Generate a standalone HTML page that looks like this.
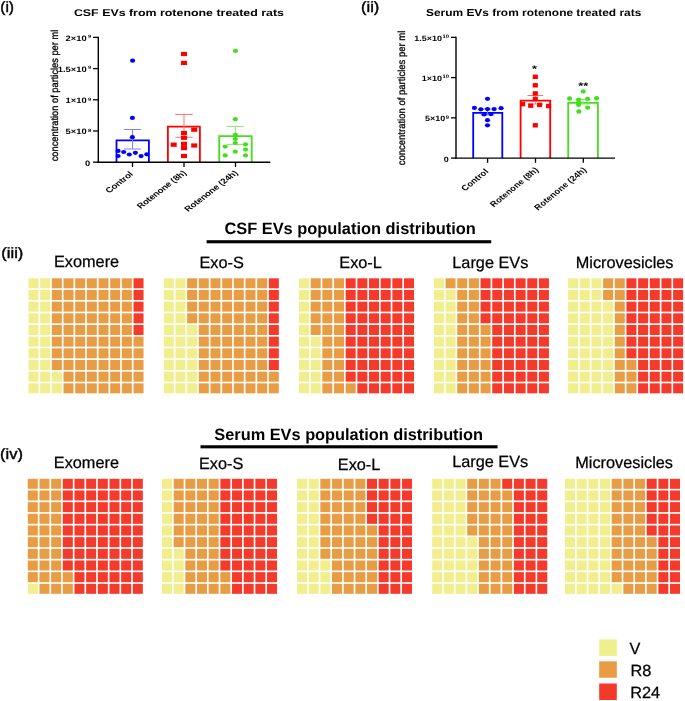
<!DOCTYPE html>
<html><head><meta charset="utf-8"><style>
html,body{margin:0;padding:0;background:#fff;width:685px;height:701px;overflow:hidden}
svg{display:block;will-change:transform}
text{font-family:"Liberation Sans",sans-serif;fill:#000;text-rendering:geometricPrecision}
</style></head><body>
<svg width="685" height="701" viewBox="0 0 685 701">
<rect width="685" height="701" fill="#fff"/>
<rect x="28.50" y="383.33" width="10.0" height="10.0" fill="#F1EE8E"/>
<rect x="28.50" y="371.66" width="10.0" height="10.0" fill="#F1EE8E"/>
<rect x="28.50" y="359.99" width="10.0" height="10.0" fill="#F1EE8E"/>
<rect x="28.50" y="348.32" width="10.0" height="10.0" fill="#F1EE8E"/>
<rect x="28.50" y="336.65" width="10.0" height="10.0" fill="#F1EE8E"/>
<rect x="28.50" y="324.98" width="10.0" height="10.0" fill="#F1EE8E"/>
<rect x="28.50" y="313.31" width="10.0" height="10.0" fill="#F1EE8E"/>
<rect x="28.50" y="301.64" width="10.0" height="10.0" fill="#F1EE8E"/>
<rect x="28.50" y="289.97" width="10.0" height="10.0" fill="#F1EE8E"/>
<rect x="28.50" y="278.30" width="10.0" height="10.0" fill="#F1EE8E"/>
<rect x="40.17" y="383.33" width="10.0" height="10.0" fill="#F1EE8E"/>
<rect x="40.17" y="371.66" width="10.0" height="10.0" fill="#F1EE8E"/>
<rect x="40.17" y="359.99" width="10.0" height="10.0" fill="#F1EE8E"/>
<rect x="40.17" y="348.32" width="10.0" height="10.0" fill="#F1EE8E"/>
<rect x="40.17" y="336.65" width="10.0" height="10.0" fill="#F1EE8E"/>
<rect x="40.17" y="324.98" width="10.0" height="10.0" fill="#F1EE8E"/>
<rect x="40.17" y="313.31" width="10.0" height="10.0" fill="#F1EE8E"/>
<rect x="40.17" y="301.64" width="10.0" height="10.0" fill="#F1EE8E"/>
<rect x="40.17" y="289.97" width="10.0" height="10.0" fill="#F1EE8E"/>
<rect x="40.17" y="278.30" width="10.0" height="10.0" fill="#F1EE8E"/>
<rect x="51.84" y="383.33" width="10.0" height="10.0" fill="#F1EE8E"/>
<rect x="51.84" y="371.66" width="10.0" height="10.0" fill="#F1EE8E"/>
<rect x="51.84" y="359.99" width="10.0" height="10.0" fill="#E89D45"/>
<rect x="51.84" y="348.32" width="10.0" height="10.0" fill="#E89D45"/>
<rect x="51.84" y="336.65" width="10.0" height="10.0" fill="#E89D45"/>
<rect x="51.84" y="324.98" width="10.0" height="10.0" fill="#E89D45"/>
<rect x="51.84" y="313.31" width="10.0" height="10.0" fill="#E89D45"/>
<rect x="51.84" y="301.64" width="10.0" height="10.0" fill="#E89D45"/>
<rect x="51.84" y="289.97" width="10.0" height="10.0" fill="#E89D45"/>
<rect x="51.84" y="278.30" width="10.0" height="10.0" fill="#E89D45"/>
<rect x="63.51" y="383.33" width="10.0" height="10.0" fill="#E89D45"/>
<rect x="63.51" y="371.66" width="10.0" height="10.0" fill="#E89D45"/>
<rect x="63.51" y="359.99" width="10.0" height="10.0" fill="#E89D45"/>
<rect x="63.51" y="348.32" width="10.0" height="10.0" fill="#E89D45"/>
<rect x="63.51" y="336.65" width="10.0" height="10.0" fill="#E89D45"/>
<rect x="63.51" y="324.98" width="10.0" height="10.0" fill="#E89D45"/>
<rect x="63.51" y="313.31" width="10.0" height="10.0" fill="#E89D45"/>
<rect x="63.51" y="301.64" width="10.0" height="10.0" fill="#E89D45"/>
<rect x="63.51" y="289.97" width="10.0" height="10.0" fill="#E89D45"/>
<rect x="63.51" y="278.30" width="10.0" height="10.0" fill="#E89D45"/>
<rect x="75.18" y="383.33" width="10.0" height="10.0" fill="#E89D45"/>
<rect x="75.18" y="371.66" width="10.0" height="10.0" fill="#E89D45"/>
<rect x="75.18" y="359.99" width="10.0" height="10.0" fill="#E89D45"/>
<rect x="75.18" y="348.32" width="10.0" height="10.0" fill="#E89D45"/>
<rect x="75.18" y="336.65" width="10.0" height="10.0" fill="#E89D45"/>
<rect x="75.18" y="324.98" width="10.0" height="10.0" fill="#E89D45"/>
<rect x="75.18" y="313.31" width="10.0" height="10.0" fill="#E89D45"/>
<rect x="75.18" y="301.64" width="10.0" height="10.0" fill="#E89D45"/>
<rect x="75.18" y="289.97" width="10.0" height="10.0" fill="#E89D45"/>
<rect x="75.18" y="278.30" width="10.0" height="10.0" fill="#E89D45"/>
<rect x="86.85" y="383.33" width="10.0" height="10.0" fill="#E89D45"/>
<rect x="86.85" y="371.66" width="10.0" height="10.0" fill="#E89D45"/>
<rect x="86.85" y="359.99" width="10.0" height="10.0" fill="#E89D45"/>
<rect x="86.85" y="348.32" width="10.0" height="10.0" fill="#E89D45"/>
<rect x="86.85" y="336.65" width="10.0" height="10.0" fill="#E89D45"/>
<rect x="86.85" y="324.98" width="10.0" height="10.0" fill="#E89D45"/>
<rect x="86.85" y="313.31" width="10.0" height="10.0" fill="#E89D45"/>
<rect x="86.85" y="301.64" width="10.0" height="10.0" fill="#E89D45"/>
<rect x="86.85" y="289.97" width="10.0" height="10.0" fill="#E89D45"/>
<rect x="86.85" y="278.30" width="10.0" height="10.0" fill="#E89D45"/>
<rect x="98.52" y="383.33" width="10.0" height="10.0" fill="#E89D45"/>
<rect x="98.52" y="371.66" width="10.0" height="10.0" fill="#E89D45"/>
<rect x="98.52" y="359.99" width="10.0" height="10.0" fill="#E89D45"/>
<rect x="98.52" y="348.32" width="10.0" height="10.0" fill="#E89D45"/>
<rect x="98.52" y="336.65" width="10.0" height="10.0" fill="#E89D45"/>
<rect x="98.52" y="324.98" width="10.0" height="10.0" fill="#E89D45"/>
<rect x="98.52" y="313.31" width="10.0" height="10.0" fill="#E89D45"/>
<rect x="98.52" y="301.64" width="10.0" height="10.0" fill="#E89D45"/>
<rect x="98.52" y="289.97" width="10.0" height="10.0" fill="#E89D45"/>
<rect x="98.52" y="278.30" width="10.0" height="10.0" fill="#E89D45"/>
<rect x="110.19" y="383.33" width="10.0" height="10.0" fill="#E89D45"/>
<rect x="110.19" y="371.66" width="10.0" height="10.0" fill="#E89D45"/>
<rect x="110.19" y="359.99" width="10.0" height="10.0" fill="#E89D45"/>
<rect x="110.19" y="348.32" width="10.0" height="10.0" fill="#E89D45"/>
<rect x="110.19" y="336.65" width="10.0" height="10.0" fill="#E89D45"/>
<rect x="110.19" y="324.98" width="10.0" height="10.0" fill="#E89D45"/>
<rect x="110.19" y="313.31" width="10.0" height="10.0" fill="#E89D45"/>
<rect x="110.19" y="301.64" width="10.0" height="10.0" fill="#E89D45"/>
<rect x="110.19" y="289.97" width="10.0" height="10.0" fill="#E89D45"/>
<rect x="110.19" y="278.30" width="10.0" height="10.0" fill="#E89D45"/>
<rect x="121.86" y="383.33" width="10.0" height="10.0" fill="#E89D45"/>
<rect x="121.86" y="371.66" width="10.0" height="10.0" fill="#E89D45"/>
<rect x="121.86" y="359.99" width="10.0" height="10.0" fill="#E89D45"/>
<rect x="121.86" y="348.32" width="10.0" height="10.0" fill="#E89D45"/>
<rect x="121.86" y="336.65" width="10.0" height="10.0" fill="#E89D45"/>
<rect x="121.86" y="324.98" width="10.0" height="10.0" fill="#E89D45"/>
<rect x="121.86" y="313.31" width="10.0" height="10.0" fill="#E89D45"/>
<rect x="121.86" y="301.64" width="10.0" height="10.0" fill="#E89D45"/>
<rect x="121.86" y="289.97" width="10.0" height="10.0" fill="#E89D45"/>
<rect x="121.86" y="278.30" width="10.0" height="10.0" fill="#E89D45"/>
<rect x="133.53" y="383.33" width="10.0" height="10.0" fill="#E89D45"/>
<rect x="133.53" y="371.66" width="10.0" height="10.0" fill="#E89D45"/>
<rect x="133.53" y="359.99" width="10.0" height="10.0" fill="#E89D45"/>
<rect x="133.53" y="348.32" width="10.0" height="10.0" fill="#E89D45"/>
<rect x="133.53" y="336.65" width="10.0" height="10.0" fill="#E89D45"/>
<rect x="133.53" y="324.98" width="10.0" height="10.0" fill="#F5392A"/>
<rect x="133.53" y="313.31" width="10.0" height="10.0" fill="#F5392A"/>
<rect x="133.53" y="301.64" width="10.0" height="10.0" fill="#F5392A"/>
<rect x="133.53" y="289.97" width="10.0" height="10.0" fill="#F5392A"/>
<rect x="133.53" y="278.30" width="10.0" height="10.0" fill="#F5392A"/>
<rect x="163.80" y="383.33" width="10.0" height="10.0" fill="#F1EE8E"/>
<rect x="163.80" y="371.66" width="10.0" height="10.0" fill="#F1EE8E"/>
<rect x="163.80" y="359.99" width="10.0" height="10.0" fill="#F1EE8E"/>
<rect x="163.80" y="348.32" width="10.0" height="10.0" fill="#F1EE8E"/>
<rect x="163.80" y="336.65" width="10.0" height="10.0" fill="#F1EE8E"/>
<rect x="163.80" y="324.98" width="10.0" height="10.0" fill="#F1EE8E"/>
<rect x="163.80" y="313.31" width="10.0" height="10.0" fill="#F1EE8E"/>
<rect x="163.80" y="301.64" width="10.0" height="10.0" fill="#F1EE8E"/>
<rect x="163.80" y="289.97" width="10.0" height="10.0" fill="#F1EE8E"/>
<rect x="163.80" y="278.30" width="10.0" height="10.0" fill="#F1EE8E"/>
<rect x="175.47" y="383.33" width="10.0" height="10.0" fill="#F1EE8E"/>
<rect x="175.47" y="371.66" width="10.0" height="10.0" fill="#F1EE8E"/>
<rect x="175.47" y="359.99" width="10.0" height="10.0" fill="#F1EE8E"/>
<rect x="175.47" y="348.32" width="10.0" height="10.0" fill="#F1EE8E"/>
<rect x="175.47" y="336.65" width="10.0" height="10.0" fill="#F1EE8E"/>
<rect x="175.47" y="324.98" width="10.0" height="10.0" fill="#F1EE8E"/>
<rect x="175.47" y="313.31" width="10.0" height="10.0" fill="#F1EE8E"/>
<rect x="175.47" y="301.64" width="10.0" height="10.0" fill="#F1EE8E"/>
<rect x="175.47" y="289.97" width="10.0" height="10.0" fill="#F1EE8E"/>
<rect x="175.47" y="278.30" width="10.0" height="10.0" fill="#F1EE8E"/>
<rect x="187.14" y="383.33" width="10.0" height="10.0" fill="#F1EE8E"/>
<rect x="187.14" y="371.66" width="10.0" height="10.0" fill="#F1EE8E"/>
<rect x="187.14" y="359.99" width="10.0" height="10.0" fill="#F1EE8E"/>
<rect x="187.14" y="348.32" width="10.0" height="10.0" fill="#F1EE8E"/>
<rect x="187.14" y="336.65" width="10.0" height="10.0" fill="#F1EE8E"/>
<rect x="187.14" y="324.98" width="10.0" height="10.0" fill="#F1EE8E"/>
<rect x="187.14" y="313.31" width="10.0" height="10.0" fill="#E89D45"/>
<rect x="187.14" y="301.64" width="10.0" height="10.0" fill="#E89D45"/>
<rect x="187.14" y="289.97" width="10.0" height="10.0" fill="#E89D45"/>
<rect x="187.14" y="278.30" width="10.0" height="10.0" fill="#E89D45"/>
<rect x="198.81" y="383.33" width="10.0" height="10.0" fill="#E89D45"/>
<rect x="198.81" y="371.66" width="10.0" height="10.0" fill="#E89D45"/>
<rect x="198.81" y="359.99" width="10.0" height="10.0" fill="#E89D45"/>
<rect x="198.81" y="348.32" width="10.0" height="10.0" fill="#E89D45"/>
<rect x="198.81" y="336.65" width="10.0" height="10.0" fill="#E89D45"/>
<rect x="198.81" y="324.98" width="10.0" height="10.0" fill="#E89D45"/>
<rect x="198.81" y="313.31" width="10.0" height="10.0" fill="#E89D45"/>
<rect x="198.81" y="301.64" width="10.0" height="10.0" fill="#E89D45"/>
<rect x="198.81" y="289.97" width="10.0" height="10.0" fill="#E89D45"/>
<rect x="198.81" y="278.30" width="10.0" height="10.0" fill="#E89D45"/>
<rect x="210.48" y="383.33" width="10.0" height="10.0" fill="#E89D45"/>
<rect x="210.48" y="371.66" width="10.0" height="10.0" fill="#E89D45"/>
<rect x="210.48" y="359.99" width="10.0" height="10.0" fill="#E89D45"/>
<rect x="210.48" y="348.32" width="10.0" height="10.0" fill="#E89D45"/>
<rect x="210.48" y="336.65" width="10.0" height="10.0" fill="#E89D45"/>
<rect x="210.48" y="324.98" width="10.0" height="10.0" fill="#E89D45"/>
<rect x="210.48" y="313.31" width="10.0" height="10.0" fill="#E89D45"/>
<rect x="210.48" y="301.64" width="10.0" height="10.0" fill="#E89D45"/>
<rect x="210.48" y="289.97" width="10.0" height="10.0" fill="#E89D45"/>
<rect x="210.48" y="278.30" width="10.0" height="10.0" fill="#E89D45"/>
<rect x="222.15" y="383.33" width="10.0" height="10.0" fill="#E89D45"/>
<rect x="222.15" y="371.66" width="10.0" height="10.0" fill="#E89D45"/>
<rect x="222.15" y="359.99" width="10.0" height="10.0" fill="#E89D45"/>
<rect x="222.15" y="348.32" width="10.0" height="10.0" fill="#E89D45"/>
<rect x="222.15" y="336.65" width="10.0" height="10.0" fill="#E89D45"/>
<rect x="222.15" y="324.98" width="10.0" height="10.0" fill="#E89D45"/>
<rect x="222.15" y="313.31" width="10.0" height="10.0" fill="#E89D45"/>
<rect x="222.15" y="301.64" width="10.0" height="10.0" fill="#E89D45"/>
<rect x="222.15" y="289.97" width="10.0" height="10.0" fill="#E89D45"/>
<rect x="222.15" y="278.30" width="10.0" height="10.0" fill="#E89D45"/>
<rect x="233.82" y="383.33" width="10.0" height="10.0" fill="#E89D45"/>
<rect x="233.82" y="371.66" width="10.0" height="10.0" fill="#E89D45"/>
<rect x="233.82" y="359.99" width="10.0" height="10.0" fill="#E89D45"/>
<rect x="233.82" y="348.32" width="10.0" height="10.0" fill="#E89D45"/>
<rect x="233.82" y="336.65" width="10.0" height="10.0" fill="#E89D45"/>
<rect x="233.82" y="324.98" width="10.0" height="10.0" fill="#E89D45"/>
<rect x="233.82" y="313.31" width="10.0" height="10.0" fill="#E89D45"/>
<rect x="233.82" y="301.64" width="10.0" height="10.0" fill="#E89D45"/>
<rect x="233.82" y="289.97" width="10.0" height="10.0" fill="#E89D45"/>
<rect x="233.82" y="278.30" width="10.0" height="10.0" fill="#E89D45"/>
<rect x="245.49" y="383.33" width="10.0" height="10.0" fill="#E89D45"/>
<rect x="245.49" y="371.66" width="10.0" height="10.0" fill="#E89D45"/>
<rect x="245.49" y="359.99" width="10.0" height="10.0" fill="#E89D45"/>
<rect x="245.49" y="348.32" width="10.0" height="10.0" fill="#E89D45"/>
<rect x="245.49" y="336.65" width="10.0" height="10.0" fill="#E89D45"/>
<rect x="245.49" y="324.98" width="10.0" height="10.0" fill="#E89D45"/>
<rect x="245.49" y="313.31" width="10.0" height="10.0" fill="#E89D45"/>
<rect x="245.49" y="301.64" width="10.0" height="10.0" fill="#E89D45"/>
<rect x="245.49" y="289.97" width="10.0" height="10.0" fill="#E89D45"/>
<rect x="245.49" y="278.30" width="10.0" height="10.0" fill="#E89D45"/>
<rect x="257.16" y="383.33" width="10.0" height="10.0" fill="#E89D45"/>
<rect x="257.16" y="371.66" width="10.0" height="10.0" fill="#E89D45"/>
<rect x="257.16" y="359.99" width="10.0" height="10.0" fill="#E89D45"/>
<rect x="257.16" y="348.32" width="10.0" height="10.0" fill="#E89D45"/>
<rect x="257.16" y="336.65" width="10.0" height="10.0" fill="#E89D45"/>
<rect x="257.16" y="324.98" width="10.0" height="10.0" fill="#E89D45"/>
<rect x="257.16" y="313.31" width="10.0" height="10.0" fill="#E89D45"/>
<rect x="257.16" y="301.64" width="10.0" height="10.0" fill="#E89D45"/>
<rect x="257.16" y="289.97" width="10.0" height="10.0" fill="#E89D45"/>
<rect x="257.16" y="278.30" width="10.0" height="10.0" fill="#E89D45"/>
<rect x="268.83" y="383.33" width="10.0" height="10.0" fill="#E89D45"/>
<rect x="268.83" y="371.66" width="10.0" height="10.0" fill="#E89D45"/>
<rect x="268.83" y="359.99" width="10.0" height="10.0" fill="#F5392A"/>
<rect x="268.83" y="348.32" width="10.0" height="10.0" fill="#F5392A"/>
<rect x="268.83" y="336.65" width="10.0" height="10.0" fill="#F5392A"/>
<rect x="268.83" y="324.98" width="10.0" height="10.0" fill="#F5392A"/>
<rect x="268.83" y="313.31" width="10.0" height="10.0" fill="#F5392A"/>
<rect x="268.83" y="301.64" width="10.0" height="10.0" fill="#F5392A"/>
<rect x="268.83" y="289.97" width="10.0" height="10.0" fill="#F5392A"/>
<rect x="268.83" y="278.30" width="10.0" height="10.0" fill="#F5392A"/>
<rect x="299.00" y="383.33" width="10.0" height="10.0" fill="#F1EE8E"/>
<rect x="299.00" y="371.66" width="10.0" height="10.0" fill="#F1EE8E"/>
<rect x="299.00" y="359.99" width="10.0" height="10.0" fill="#F1EE8E"/>
<rect x="299.00" y="348.32" width="10.0" height="10.0" fill="#F1EE8E"/>
<rect x="299.00" y="336.65" width="10.0" height="10.0" fill="#F1EE8E"/>
<rect x="299.00" y="324.98" width="10.0" height="10.0" fill="#F1EE8E"/>
<rect x="299.00" y="313.31" width="10.0" height="10.0" fill="#F1EE8E"/>
<rect x="299.00" y="301.64" width="10.0" height="10.0" fill="#F1EE8E"/>
<rect x="299.00" y="289.97" width="10.0" height="10.0" fill="#F1EE8E"/>
<rect x="299.00" y="278.30" width="10.0" height="10.0" fill="#F1EE8E"/>
<rect x="310.67" y="383.33" width="10.0" height="10.0" fill="#F1EE8E"/>
<rect x="310.67" y="371.66" width="10.0" height="10.0" fill="#F1EE8E"/>
<rect x="310.67" y="359.99" width="10.0" height="10.0" fill="#F1EE8E"/>
<rect x="310.67" y="348.32" width="10.0" height="10.0" fill="#F1EE8E"/>
<rect x="310.67" y="336.65" width="10.0" height="10.0" fill="#F1EE8E"/>
<rect x="310.67" y="324.98" width="10.0" height="10.0" fill="#E89D45"/>
<rect x="310.67" y="313.31" width="10.0" height="10.0" fill="#E89D45"/>
<rect x="310.67" y="301.64" width="10.0" height="10.0" fill="#E89D45"/>
<rect x="310.67" y="289.97" width="10.0" height="10.0" fill="#E89D45"/>
<rect x="310.67" y="278.30" width="10.0" height="10.0" fill="#E89D45"/>
<rect x="322.34" y="383.33" width="10.0" height="10.0" fill="#E89D45"/>
<rect x="322.34" y="371.66" width="10.0" height="10.0" fill="#E89D45"/>
<rect x="322.34" y="359.99" width="10.0" height="10.0" fill="#E89D45"/>
<rect x="322.34" y="348.32" width="10.0" height="10.0" fill="#E89D45"/>
<rect x="322.34" y="336.65" width="10.0" height="10.0" fill="#E89D45"/>
<rect x="322.34" y="324.98" width="10.0" height="10.0" fill="#E89D45"/>
<rect x="322.34" y="313.31" width="10.0" height="10.0" fill="#E89D45"/>
<rect x="322.34" y="301.64" width="10.0" height="10.0" fill="#E89D45"/>
<rect x="322.34" y="289.97" width="10.0" height="10.0" fill="#E89D45"/>
<rect x="322.34" y="278.30" width="10.0" height="10.0" fill="#E89D45"/>
<rect x="334.01" y="383.33" width="10.0" height="10.0" fill="#E89D45"/>
<rect x="334.01" y="371.66" width="10.0" height="10.0" fill="#E89D45"/>
<rect x="334.01" y="359.99" width="10.0" height="10.0" fill="#E89D45"/>
<rect x="334.01" y="348.32" width="10.0" height="10.0" fill="#E89D45"/>
<rect x="334.01" y="336.65" width="10.0" height="10.0" fill="#E89D45"/>
<rect x="334.01" y="324.98" width="10.0" height="10.0" fill="#E89D45"/>
<rect x="334.01" y="313.31" width="10.0" height="10.0" fill="#E89D45"/>
<rect x="334.01" y="301.64" width="10.0" height="10.0" fill="#E89D45"/>
<rect x="334.01" y="289.97" width="10.0" height="10.0" fill="#E89D45"/>
<rect x="334.01" y="278.30" width="10.0" height="10.0" fill="#E89D45"/>
<rect x="345.68" y="383.33" width="10.0" height="10.0" fill="#E89D45"/>
<rect x="345.68" y="371.66" width="10.0" height="10.0" fill="#F5392A"/>
<rect x="345.68" y="359.99" width="10.0" height="10.0" fill="#F5392A"/>
<rect x="345.68" y="348.32" width="10.0" height="10.0" fill="#F5392A"/>
<rect x="345.68" y="336.65" width="10.0" height="10.0" fill="#F5392A"/>
<rect x="345.68" y="324.98" width="10.0" height="10.0" fill="#F5392A"/>
<rect x="345.68" y="313.31" width="10.0" height="10.0" fill="#F5392A"/>
<rect x="345.68" y="301.64" width="10.0" height="10.0" fill="#F5392A"/>
<rect x="345.68" y="289.97" width="10.0" height="10.0" fill="#F5392A"/>
<rect x="345.68" y="278.30" width="10.0" height="10.0" fill="#F5392A"/>
<rect x="357.35" y="383.33" width="10.0" height="10.0" fill="#F5392A"/>
<rect x="357.35" y="371.66" width="10.0" height="10.0" fill="#F5392A"/>
<rect x="357.35" y="359.99" width="10.0" height="10.0" fill="#F5392A"/>
<rect x="357.35" y="348.32" width="10.0" height="10.0" fill="#F5392A"/>
<rect x="357.35" y="336.65" width="10.0" height="10.0" fill="#F5392A"/>
<rect x="357.35" y="324.98" width="10.0" height="10.0" fill="#F5392A"/>
<rect x="357.35" y="313.31" width="10.0" height="10.0" fill="#F5392A"/>
<rect x="357.35" y="301.64" width="10.0" height="10.0" fill="#F5392A"/>
<rect x="357.35" y="289.97" width="10.0" height="10.0" fill="#F5392A"/>
<rect x="357.35" y="278.30" width="10.0" height="10.0" fill="#F5392A"/>
<rect x="369.02" y="383.33" width="10.0" height="10.0" fill="#F5392A"/>
<rect x="369.02" y="371.66" width="10.0" height="10.0" fill="#F5392A"/>
<rect x="369.02" y="359.99" width="10.0" height="10.0" fill="#F5392A"/>
<rect x="369.02" y="348.32" width="10.0" height="10.0" fill="#F5392A"/>
<rect x="369.02" y="336.65" width="10.0" height="10.0" fill="#F5392A"/>
<rect x="369.02" y="324.98" width="10.0" height="10.0" fill="#F5392A"/>
<rect x="369.02" y="313.31" width="10.0" height="10.0" fill="#F5392A"/>
<rect x="369.02" y="301.64" width="10.0" height="10.0" fill="#F5392A"/>
<rect x="369.02" y="289.97" width="10.0" height="10.0" fill="#F5392A"/>
<rect x="369.02" y="278.30" width="10.0" height="10.0" fill="#F5392A"/>
<rect x="380.69" y="383.33" width="10.0" height="10.0" fill="#F5392A"/>
<rect x="380.69" y="371.66" width="10.0" height="10.0" fill="#F5392A"/>
<rect x="380.69" y="359.99" width="10.0" height="10.0" fill="#F5392A"/>
<rect x="380.69" y="348.32" width="10.0" height="10.0" fill="#F5392A"/>
<rect x="380.69" y="336.65" width="10.0" height="10.0" fill="#F5392A"/>
<rect x="380.69" y="324.98" width="10.0" height="10.0" fill="#F5392A"/>
<rect x="380.69" y="313.31" width="10.0" height="10.0" fill="#F5392A"/>
<rect x="380.69" y="301.64" width="10.0" height="10.0" fill="#F5392A"/>
<rect x="380.69" y="289.97" width="10.0" height="10.0" fill="#F5392A"/>
<rect x="380.69" y="278.30" width="10.0" height="10.0" fill="#F5392A"/>
<rect x="392.36" y="383.33" width="10.0" height="10.0" fill="#F5392A"/>
<rect x="392.36" y="371.66" width="10.0" height="10.0" fill="#F5392A"/>
<rect x="392.36" y="359.99" width="10.0" height="10.0" fill="#F5392A"/>
<rect x="392.36" y="348.32" width="10.0" height="10.0" fill="#F5392A"/>
<rect x="392.36" y="336.65" width="10.0" height="10.0" fill="#F5392A"/>
<rect x="392.36" y="324.98" width="10.0" height="10.0" fill="#F5392A"/>
<rect x="392.36" y="313.31" width="10.0" height="10.0" fill="#F5392A"/>
<rect x="392.36" y="301.64" width="10.0" height="10.0" fill="#F5392A"/>
<rect x="392.36" y="289.97" width="10.0" height="10.0" fill="#F5392A"/>
<rect x="392.36" y="278.30" width="10.0" height="10.0" fill="#F5392A"/>
<rect x="404.03" y="383.33" width="10.0" height="10.0" fill="#F5392A"/>
<rect x="404.03" y="371.66" width="10.0" height="10.0" fill="#F5392A"/>
<rect x="404.03" y="359.99" width="10.0" height="10.0" fill="#F5392A"/>
<rect x="404.03" y="348.32" width="10.0" height="10.0" fill="#F5392A"/>
<rect x="404.03" y="336.65" width="10.0" height="10.0" fill="#F5392A"/>
<rect x="404.03" y="324.98" width="10.0" height="10.0" fill="#F5392A"/>
<rect x="404.03" y="313.31" width="10.0" height="10.0" fill="#F5392A"/>
<rect x="404.03" y="301.64" width="10.0" height="10.0" fill="#F5392A"/>
<rect x="404.03" y="289.97" width="10.0" height="10.0" fill="#F5392A"/>
<rect x="404.03" y="278.30" width="10.0" height="10.0" fill="#F5392A"/>
<rect x="433.90" y="383.33" width="10.0" height="10.0" fill="#F1EE8E"/>
<rect x="433.90" y="371.66" width="10.0" height="10.0" fill="#F1EE8E"/>
<rect x="433.90" y="359.99" width="10.0" height="10.0" fill="#F1EE8E"/>
<rect x="433.90" y="348.32" width="10.0" height="10.0" fill="#F1EE8E"/>
<rect x="433.90" y="336.65" width="10.0" height="10.0" fill="#F1EE8E"/>
<rect x="433.90" y="324.98" width="10.0" height="10.0" fill="#F1EE8E"/>
<rect x="433.90" y="313.31" width="10.0" height="10.0" fill="#F1EE8E"/>
<rect x="433.90" y="301.64" width="10.0" height="10.0" fill="#F1EE8E"/>
<rect x="433.90" y="289.97" width="10.0" height="10.0" fill="#F1EE8E"/>
<rect x="433.90" y="278.30" width="10.0" height="10.0" fill="#F1EE8E"/>
<rect x="445.57" y="383.33" width="10.0" height="10.0" fill="#F1EE8E"/>
<rect x="445.57" y="371.66" width="10.0" height="10.0" fill="#F1EE8E"/>
<rect x="445.57" y="359.99" width="10.0" height="10.0" fill="#F1EE8E"/>
<rect x="445.57" y="348.32" width="10.0" height="10.0" fill="#F1EE8E"/>
<rect x="445.57" y="336.65" width="10.0" height="10.0" fill="#F1EE8E"/>
<rect x="445.57" y="324.98" width="10.0" height="10.0" fill="#F1EE8E"/>
<rect x="445.57" y="313.31" width="10.0" height="10.0" fill="#F1EE8E"/>
<rect x="445.57" y="301.64" width="10.0" height="10.0" fill="#F1EE8E"/>
<rect x="445.57" y="289.97" width="10.0" height="10.0" fill="#F1EE8E"/>
<rect x="445.57" y="278.30" width="10.0" height="10.0" fill="#E89D45"/>
<rect x="457.24" y="383.33" width="10.0" height="10.0" fill="#E89D45"/>
<rect x="457.24" y="371.66" width="10.0" height="10.0" fill="#E89D45"/>
<rect x="457.24" y="359.99" width="10.0" height="10.0" fill="#E89D45"/>
<rect x="457.24" y="348.32" width="10.0" height="10.0" fill="#E89D45"/>
<rect x="457.24" y="336.65" width="10.0" height="10.0" fill="#E89D45"/>
<rect x="457.24" y="324.98" width="10.0" height="10.0" fill="#E89D45"/>
<rect x="457.24" y="313.31" width="10.0" height="10.0" fill="#E89D45"/>
<rect x="457.24" y="301.64" width="10.0" height="10.0" fill="#E89D45"/>
<rect x="457.24" y="289.97" width="10.0" height="10.0" fill="#E89D45"/>
<rect x="457.24" y="278.30" width="10.0" height="10.0" fill="#E89D45"/>
<rect x="468.91" y="383.33" width="10.0" height="10.0" fill="#E89D45"/>
<rect x="468.91" y="371.66" width="10.0" height="10.0" fill="#E89D45"/>
<rect x="468.91" y="359.99" width="10.0" height="10.0" fill="#E89D45"/>
<rect x="468.91" y="348.32" width="10.0" height="10.0" fill="#E89D45"/>
<rect x="468.91" y="336.65" width="10.0" height="10.0" fill="#E89D45"/>
<rect x="468.91" y="324.98" width="10.0" height="10.0" fill="#E89D45"/>
<rect x="468.91" y="313.31" width="10.0" height="10.0" fill="#E89D45"/>
<rect x="468.91" y="301.64" width="10.0" height="10.0" fill="#E89D45"/>
<rect x="468.91" y="289.97" width="10.0" height="10.0" fill="#E89D45"/>
<rect x="468.91" y="278.30" width="10.0" height="10.0" fill="#E89D45"/>
<rect x="480.58" y="383.33" width="10.0" height="10.0" fill="#E89D45"/>
<rect x="480.58" y="371.66" width="10.0" height="10.0" fill="#E89D45"/>
<rect x="480.58" y="359.99" width="10.0" height="10.0" fill="#E89D45"/>
<rect x="480.58" y="348.32" width="10.0" height="10.0" fill="#E89D45"/>
<rect x="480.58" y="336.65" width="10.0" height="10.0" fill="#E89D45"/>
<rect x="480.58" y="324.98" width="10.0" height="10.0" fill="#E89D45"/>
<rect x="480.58" y="313.31" width="10.0" height="10.0" fill="#F5392A"/>
<rect x="480.58" y="301.64" width="10.0" height="10.0" fill="#F5392A"/>
<rect x="480.58" y="289.97" width="10.0" height="10.0" fill="#F5392A"/>
<rect x="480.58" y="278.30" width="10.0" height="10.0" fill="#F5392A"/>
<rect x="492.25" y="383.33" width="10.0" height="10.0" fill="#F5392A"/>
<rect x="492.25" y="371.66" width="10.0" height="10.0" fill="#F5392A"/>
<rect x="492.25" y="359.99" width="10.0" height="10.0" fill="#F5392A"/>
<rect x="492.25" y="348.32" width="10.0" height="10.0" fill="#F5392A"/>
<rect x="492.25" y="336.65" width="10.0" height="10.0" fill="#F5392A"/>
<rect x="492.25" y="324.98" width="10.0" height="10.0" fill="#F5392A"/>
<rect x="492.25" y="313.31" width="10.0" height="10.0" fill="#F5392A"/>
<rect x="492.25" y="301.64" width="10.0" height="10.0" fill="#F5392A"/>
<rect x="492.25" y="289.97" width="10.0" height="10.0" fill="#F5392A"/>
<rect x="492.25" y="278.30" width="10.0" height="10.0" fill="#F5392A"/>
<rect x="503.92" y="383.33" width="10.0" height="10.0" fill="#F5392A"/>
<rect x="503.92" y="371.66" width="10.0" height="10.0" fill="#F5392A"/>
<rect x="503.92" y="359.99" width="10.0" height="10.0" fill="#F5392A"/>
<rect x="503.92" y="348.32" width="10.0" height="10.0" fill="#F5392A"/>
<rect x="503.92" y="336.65" width="10.0" height="10.0" fill="#F5392A"/>
<rect x="503.92" y="324.98" width="10.0" height="10.0" fill="#F5392A"/>
<rect x="503.92" y="313.31" width="10.0" height="10.0" fill="#F5392A"/>
<rect x="503.92" y="301.64" width="10.0" height="10.0" fill="#F5392A"/>
<rect x="503.92" y="289.97" width="10.0" height="10.0" fill="#F5392A"/>
<rect x="503.92" y="278.30" width="10.0" height="10.0" fill="#F5392A"/>
<rect x="515.59" y="383.33" width="10.0" height="10.0" fill="#F5392A"/>
<rect x="515.59" y="371.66" width="10.0" height="10.0" fill="#F5392A"/>
<rect x="515.59" y="359.99" width="10.0" height="10.0" fill="#F5392A"/>
<rect x="515.59" y="348.32" width="10.0" height="10.0" fill="#F5392A"/>
<rect x="515.59" y="336.65" width="10.0" height="10.0" fill="#F5392A"/>
<rect x="515.59" y="324.98" width="10.0" height="10.0" fill="#F5392A"/>
<rect x="515.59" y="313.31" width="10.0" height="10.0" fill="#F5392A"/>
<rect x="515.59" y="301.64" width="10.0" height="10.0" fill="#F5392A"/>
<rect x="515.59" y="289.97" width="10.0" height="10.0" fill="#F5392A"/>
<rect x="515.59" y="278.30" width="10.0" height="10.0" fill="#F5392A"/>
<rect x="527.26" y="383.33" width="10.0" height="10.0" fill="#F5392A"/>
<rect x="527.26" y="371.66" width="10.0" height="10.0" fill="#F5392A"/>
<rect x="527.26" y="359.99" width="10.0" height="10.0" fill="#F5392A"/>
<rect x="527.26" y="348.32" width="10.0" height="10.0" fill="#F5392A"/>
<rect x="527.26" y="336.65" width="10.0" height="10.0" fill="#F5392A"/>
<rect x="527.26" y="324.98" width="10.0" height="10.0" fill="#F5392A"/>
<rect x="527.26" y="313.31" width="10.0" height="10.0" fill="#F5392A"/>
<rect x="527.26" y="301.64" width="10.0" height="10.0" fill="#F5392A"/>
<rect x="527.26" y="289.97" width="10.0" height="10.0" fill="#F5392A"/>
<rect x="527.26" y="278.30" width="10.0" height="10.0" fill="#F5392A"/>
<rect x="538.93" y="383.33" width="10.0" height="10.0" fill="#F5392A"/>
<rect x="538.93" y="371.66" width="10.0" height="10.0" fill="#F5392A"/>
<rect x="538.93" y="359.99" width="10.0" height="10.0" fill="#F5392A"/>
<rect x="538.93" y="348.32" width="10.0" height="10.0" fill="#F5392A"/>
<rect x="538.93" y="336.65" width="10.0" height="10.0" fill="#F5392A"/>
<rect x="538.93" y="324.98" width="10.0" height="10.0" fill="#F5392A"/>
<rect x="538.93" y="313.31" width="10.0" height="10.0" fill="#F5392A"/>
<rect x="538.93" y="301.64" width="10.0" height="10.0" fill="#F5392A"/>
<rect x="538.93" y="289.97" width="10.0" height="10.0" fill="#F5392A"/>
<rect x="538.93" y="278.30" width="10.0" height="10.0" fill="#F5392A"/>
<rect x="568.10" y="383.33" width="10.0" height="10.0" fill="#F1EE8E"/>
<rect x="568.10" y="371.66" width="10.0" height="10.0" fill="#F1EE8E"/>
<rect x="568.10" y="359.99" width="10.0" height="10.0" fill="#F1EE8E"/>
<rect x="568.10" y="348.32" width="10.0" height="10.0" fill="#F1EE8E"/>
<rect x="568.10" y="336.65" width="10.0" height="10.0" fill="#F1EE8E"/>
<rect x="568.10" y="324.98" width="10.0" height="10.0" fill="#F1EE8E"/>
<rect x="568.10" y="313.31" width="10.0" height="10.0" fill="#F1EE8E"/>
<rect x="568.10" y="301.64" width="10.0" height="10.0" fill="#F1EE8E"/>
<rect x="568.10" y="289.97" width="10.0" height="10.0" fill="#F1EE8E"/>
<rect x="568.10" y="278.30" width="10.0" height="10.0" fill="#F1EE8E"/>
<rect x="579.77" y="383.33" width="10.0" height="10.0" fill="#F1EE8E"/>
<rect x="579.77" y="371.66" width="10.0" height="10.0" fill="#F1EE8E"/>
<rect x="579.77" y="359.99" width="10.0" height="10.0" fill="#F1EE8E"/>
<rect x="579.77" y="348.32" width="10.0" height="10.0" fill="#F1EE8E"/>
<rect x="579.77" y="336.65" width="10.0" height="10.0" fill="#F1EE8E"/>
<rect x="579.77" y="324.98" width="10.0" height="10.0" fill="#F1EE8E"/>
<rect x="579.77" y="313.31" width="10.0" height="10.0" fill="#F1EE8E"/>
<rect x="579.77" y="301.64" width="10.0" height="10.0" fill="#F1EE8E"/>
<rect x="579.77" y="289.97" width="10.0" height="10.0" fill="#F1EE8E"/>
<rect x="579.77" y="278.30" width="10.0" height="10.0" fill="#F1EE8E"/>
<rect x="591.44" y="383.33" width="10.0" height="10.0" fill="#F1EE8E"/>
<rect x="591.44" y="371.66" width="10.0" height="10.0" fill="#F1EE8E"/>
<rect x="591.44" y="359.99" width="10.0" height="10.0" fill="#F1EE8E"/>
<rect x="591.44" y="348.32" width="10.0" height="10.0" fill="#F1EE8E"/>
<rect x="591.44" y="336.65" width="10.0" height="10.0" fill="#F1EE8E"/>
<rect x="591.44" y="324.98" width="10.0" height="10.0" fill="#F1EE8E"/>
<rect x="591.44" y="313.31" width="10.0" height="10.0" fill="#F1EE8E"/>
<rect x="591.44" y="301.64" width="10.0" height="10.0" fill="#F1EE8E"/>
<rect x="591.44" y="289.97" width="10.0" height="10.0" fill="#F1EE8E"/>
<rect x="591.44" y="278.30" width="10.0" height="10.0" fill="#F1EE8E"/>
<rect x="603.11" y="383.33" width="10.0" height="10.0" fill="#F1EE8E"/>
<rect x="603.11" y="371.66" width="10.0" height="10.0" fill="#F1EE8E"/>
<rect x="603.11" y="359.99" width="10.0" height="10.0" fill="#F1EE8E"/>
<rect x="603.11" y="348.32" width="10.0" height="10.0" fill="#F1EE8E"/>
<rect x="603.11" y="336.65" width="10.0" height="10.0" fill="#F1EE8E"/>
<rect x="603.11" y="324.98" width="10.0" height="10.0" fill="#F1EE8E"/>
<rect x="603.11" y="313.31" width="10.0" height="10.0" fill="#F1EE8E"/>
<rect x="603.11" y="301.64" width="10.0" height="10.0" fill="#F1EE8E"/>
<rect x="603.11" y="289.97" width="10.0" height="10.0" fill="#E89D45"/>
<rect x="603.11" y="278.30" width="10.0" height="10.0" fill="#E89D45"/>
<rect x="614.78" y="383.33" width="10.0" height="10.0" fill="#E89D45"/>
<rect x="614.78" y="371.66" width="10.0" height="10.0" fill="#E89D45"/>
<rect x="614.78" y="359.99" width="10.0" height="10.0" fill="#E89D45"/>
<rect x="614.78" y="348.32" width="10.0" height="10.0" fill="#E89D45"/>
<rect x="614.78" y="336.65" width="10.0" height="10.0" fill="#E89D45"/>
<rect x="614.78" y="324.98" width="10.0" height="10.0" fill="#E89D45"/>
<rect x="614.78" y="313.31" width="10.0" height="10.0" fill="#E89D45"/>
<rect x="614.78" y="301.64" width="10.0" height="10.0" fill="#E89D45"/>
<rect x="614.78" y="289.97" width="10.0" height="10.0" fill="#E89D45"/>
<rect x="614.78" y="278.30" width="10.0" height="10.0" fill="#E89D45"/>
<rect x="626.45" y="383.33" width="10.0" height="10.0" fill="#E89D45"/>
<rect x="626.45" y="371.66" width="10.0" height="10.0" fill="#E89D45"/>
<rect x="626.45" y="359.99" width="10.0" height="10.0" fill="#E89D45"/>
<rect x="626.45" y="348.32" width="10.0" height="10.0" fill="#F5392A"/>
<rect x="626.45" y="336.65" width="10.0" height="10.0" fill="#F5392A"/>
<rect x="626.45" y="324.98" width="10.0" height="10.0" fill="#F5392A"/>
<rect x="626.45" y="313.31" width="10.0" height="10.0" fill="#F5392A"/>
<rect x="626.45" y="301.64" width="10.0" height="10.0" fill="#F5392A"/>
<rect x="626.45" y="289.97" width="10.0" height="10.0" fill="#F5392A"/>
<rect x="626.45" y="278.30" width="10.0" height="10.0" fill="#F5392A"/>
<rect x="638.12" y="383.33" width="10.0" height="10.0" fill="#F5392A"/>
<rect x="638.12" y="371.66" width="10.0" height="10.0" fill="#F5392A"/>
<rect x="638.12" y="359.99" width="10.0" height="10.0" fill="#F5392A"/>
<rect x="638.12" y="348.32" width="10.0" height="10.0" fill="#F5392A"/>
<rect x="638.12" y="336.65" width="10.0" height="10.0" fill="#F5392A"/>
<rect x="638.12" y="324.98" width="10.0" height="10.0" fill="#F5392A"/>
<rect x="638.12" y="313.31" width="10.0" height="10.0" fill="#F5392A"/>
<rect x="638.12" y="301.64" width="10.0" height="10.0" fill="#F5392A"/>
<rect x="638.12" y="289.97" width="10.0" height="10.0" fill="#F5392A"/>
<rect x="638.12" y="278.30" width="10.0" height="10.0" fill="#F5392A"/>
<rect x="649.79" y="383.33" width="10.0" height="10.0" fill="#F5392A"/>
<rect x="649.79" y="371.66" width="10.0" height="10.0" fill="#F5392A"/>
<rect x="649.79" y="359.99" width="10.0" height="10.0" fill="#F5392A"/>
<rect x="649.79" y="348.32" width="10.0" height="10.0" fill="#F5392A"/>
<rect x="649.79" y="336.65" width="10.0" height="10.0" fill="#F5392A"/>
<rect x="649.79" y="324.98" width="10.0" height="10.0" fill="#F5392A"/>
<rect x="649.79" y="313.31" width="10.0" height="10.0" fill="#F5392A"/>
<rect x="649.79" y="301.64" width="10.0" height="10.0" fill="#F5392A"/>
<rect x="649.79" y="289.97" width="10.0" height="10.0" fill="#F5392A"/>
<rect x="649.79" y="278.30" width="10.0" height="10.0" fill="#F5392A"/>
<rect x="661.46" y="383.33" width="10.0" height="10.0" fill="#F5392A"/>
<rect x="661.46" y="371.66" width="10.0" height="10.0" fill="#F5392A"/>
<rect x="661.46" y="359.99" width="10.0" height="10.0" fill="#F5392A"/>
<rect x="661.46" y="348.32" width="10.0" height="10.0" fill="#F5392A"/>
<rect x="661.46" y="336.65" width="10.0" height="10.0" fill="#F5392A"/>
<rect x="661.46" y="324.98" width="10.0" height="10.0" fill="#F5392A"/>
<rect x="661.46" y="313.31" width="10.0" height="10.0" fill="#F5392A"/>
<rect x="661.46" y="301.64" width="10.0" height="10.0" fill="#F5392A"/>
<rect x="661.46" y="289.97" width="10.0" height="10.0" fill="#F5392A"/>
<rect x="661.46" y="278.30" width="10.0" height="10.0" fill="#F5392A"/>
<rect x="673.13" y="383.33" width="10.0" height="10.0" fill="#F5392A"/>
<rect x="673.13" y="371.66" width="10.0" height="10.0" fill="#F5392A"/>
<rect x="673.13" y="359.99" width="10.0" height="10.0" fill="#F5392A"/>
<rect x="673.13" y="348.32" width="10.0" height="10.0" fill="#F5392A"/>
<rect x="673.13" y="336.65" width="10.0" height="10.0" fill="#F5392A"/>
<rect x="673.13" y="324.98" width="10.0" height="10.0" fill="#F5392A"/>
<rect x="673.13" y="313.31" width="10.0" height="10.0" fill="#F5392A"/>
<rect x="673.13" y="301.64" width="10.0" height="10.0" fill="#F5392A"/>
<rect x="673.13" y="289.97" width="10.0" height="10.0" fill="#F5392A"/>
<rect x="673.13" y="278.30" width="10.0" height="10.0" fill="#F5392A"/>
<rect x="27.80" y="583.83" width="10.0" height="10.0" fill="#F1EE8E"/>
<rect x="27.80" y="572.16" width="10.0" height="10.0" fill="#E89D45"/>
<rect x="27.80" y="560.49" width="10.0" height="10.0" fill="#E89D45"/>
<rect x="27.80" y="548.82" width="10.0" height="10.0" fill="#E89D45"/>
<rect x="27.80" y="537.15" width="10.0" height="10.0" fill="#E89D45"/>
<rect x="27.80" y="525.48" width="10.0" height="10.0" fill="#E89D45"/>
<rect x="27.80" y="513.81" width="10.0" height="10.0" fill="#E89D45"/>
<rect x="27.80" y="502.14" width="10.0" height="10.0" fill="#E89D45"/>
<rect x="27.80" y="490.47" width="10.0" height="10.0" fill="#E89D45"/>
<rect x="27.80" y="478.80" width="10.0" height="10.0" fill="#E89D45"/>
<rect x="39.47" y="583.83" width="10.0" height="10.0" fill="#E89D45"/>
<rect x="39.47" y="572.16" width="10.0" height="10.0" fill="#E89D45"/>
<rect x="39.47" y="560.49" width="10.0" height="10.0" fill="#E89D45"/>
<rect x="39.47" y="548.82" width="10.0" height="10.0" fill="#E89D45"/>
<rect x="39.47" y="537.15" width="10.0" height="10.0" fill="#E89D45"/>
<rect x="39.47" y="525.48" width="10.0" height="10.0" fill="#E89D45"/>
<rect x="39.47" y="513.81" width="10.0" height="10.0" fill="#E89D45"/>
<rect x="39.47" y="502.14" width="10.0" height="10.0" fill="#E89D45"/>
<rect x="39.47" y="490.47" width="10.0" height="10.0" fill="#E89D45"/>
<rect x="39.47" y="478.80" width="10.0" height="10.0" fill="#E89D45"/>
<rect x="51.14" y="583.83" width="10.0" height="10.0" fill="#E89D45"/>
<rect x="51.14" y="572.16" width="10.0" height="10.0" fill="#E89D45"/>
<rect x="51.14" y="560.49" width="10.0" height="10.0" fill="#E89D45"/>
<rect x="51.14" y="548.82" width="10.0" height="10.0" fill="#E89D45"/>
<rect x="51.14" y="537.15" width="10.0" height="10.0" fill="#E89D45"/>
<rect x="51.14" y="525.48" width="10.0" height="10.0" fill="#E89D45"/>
<rect x="51.14" y="513.81" width="10.0" height="10.0" fill="#E89D45"/>
<rect x="51.14" y="502.14" width="10.0" height="10.0" fill="#E89D45"/>
<rect x="51.14" y="490.47" width="10.0" height="10.0" fill="#E89D45"/>
<rect x="51.14" y="478.80" width="10.0" height="10.0" fill="#E89D45"/>
<rect x="62.81" y="583.83" width="10.0" height="10.0" fill="#E89D45"/>
<rect x="62.81" y="572.16" width="10.0" height="10.0" fill="#E89D45"/>
<rect x="62.81" y="560.49" width="10.0" height="10.0" fill="#F5392A"/>
<rect x="62.81" y="548.82" width="10.0" height="10.0" fill="#F5392A"/>
<rect x="62.81" y="537.15" width="10.0" height="10.0" fill="#F5392A"/>
<rect x="62.81" y="525.48" width="10.0" height="10.0" fill="#F5392A"/>
<rect x="62.81" y="513.81" width="10.0" height="10.0" fill="#F5392A"/>
<rect x="62.81" y="502.14" width="10.0" height="10.0" fill="#F5392A"/>
<rect x="62.81" y="490.47" width="10.0" height="10.0" fill="#F5392A"/>
<rect x="62.81" y="478.80" width="10.0" height="10.0" fill="#F5392A"/>
<rect x="74.48" y="583.83" width="10.0" height="10.0" fill="#F5392A"/>
<rect x="74.48" y="572.16" width="10.0" height="10.0" fill="#F5392A"/>
<rect x="74.48" y="560.49" width="10.0" height="10.0" fill="#F5392A"/>
<rect x="74.48" y="548.82" width="10.0" height="10.0" fill="#F5392A"/>
<rect x="74.48" y="537.15" width="10.0" height="10.0" fill="#F5392A"/>
<rect x="74.48" y="525.48" width="10.0" height="10.0" fill="#F5392A"/>
<rect x="74.48" y="513.81" width="10.0" height="10.0" fill="#F5392A"/>
<rect x="74.48" y="502.14" width="10.0" height="10.0" fill="#F5392A"/>
<rect x="74.48" y="490.47" width="10.0" height="10.0" fill="#F5392A"/>
<rect x="74.48" y="478.80" width="10.0" height="10.0" fill="#F5392A"/>
<rect x="86.15" y="583.83" width="10.0" height="10.0" fill="#F5392A"/>
<rect x="86.15" y="572.16" width="10.0" height="10.0" fill="#F5392A"/>
<rect x="86.15" y="560.49" width="10.0" height="10.0" fill="#F5392A"/>
<rect x="86.15" y="548.82" width="10.0" height="10.0" fill="#F5392A"/>
<rect x="86.15" y="537.15" width="10.0" height="10.0" fill="#F5392A"/>
<rect x="86.15" y="525.48" width="10.0" height="10.0" fill="#F5392A"/>
<rect x="86.15" y="513.81" width="10.0" height="10.0" fill="#F5392A"/>
<rect x="86.15" y="502.14" width="10.0" height="10.0" fill="#F5392A"/>
<rect x="86.15" y="490.47" width="10.0" height="10.0" fill="#F5392A"/>
<rect x="86.15" y="478.80" width="10.0" height="10.0" fill="#F5392A"/>
<rect x="97.82" y="583.83" width="10.0" height="10.0" fill="#F5392A"/>
<rect x="97.82" y="572.16" width="10.0" height="10.0" fill="#F5392A"/>
<rect x="97.82" y="560.49" width="10.0" height="10.0" fill="#F5392A"/>
<rect x="97.82" y="548.82" width="10.0" height="10.0" fill="#F5392A"/>
<rect x="97.82" y="537.15" width="10.0" height="10.0" fill="#F5392A"/>
<rect x="97.82" y="525.48" width="10.0" height="10.0" fill="#F5392A"/>
<rect x="97.82" y="513.81" width="10.0" height="10.0" fill="#F5392A"/>
<rect x="97.82" y="502.14" width="10.0" height="10.0" fill="#F5392A"/>
<rect x="97.82" y="490.47" width="10.0" height="10.0" fill="#F5392A"/>
<rect x="97.82" y="478.80" width="10.0" height="10.0" fill="#F5392A"/>
<rect x="109.49" y="583.83" width="10.0" height="10.0" fill="#F5392A"/>
<rect x="109.49" y="572.16" width="10.0" height="10.0" fill="#F5392A"/>
<rect x="109.49" y="560.49" width="10.0" height="10.0" fill="#F5392A"/>
<rect x="109.49" y="548.82" width="10.0" height="10.0" fill="#F5392A"/>
<rect x="109.49" y="537.15" width="10.0" height="10.0" fill="#F5392A"/>
<rect x="109.49" y="525.48" width="10.0" height="10.0" fill="#F5392A"/>
<rect x="109.49" y="513.81" width="10.0" height="10.0" fill="#F5392A"/>
<rect x="109.49" y="502.14" width="10.0" height="10.0" fill="#F5392A"/>
<rect x="109.49" y="490.47" width="10.0" height="10.0" fill="#F5392A"/>
<rect x="109.49" y="478.80" width="10.0" height="10.0" fill="#F5392A"/>
<rect x="121.16" y="583.83" width="10.0" height="10.0" fill="#F5392A"/>
<rect x="121.16" y="572.16" width="10.0" height="10.0" fill="#F5392A"/>
<rect x="121.16" y="560.49" width="10.0" height="10.0" fill="#F5392A"/>
<rect x="121.16" y="548.82" width="10.0" height="10.0" fill="#F5392A"/>
<rect x="121.16" y="537.15" width="10.0" height="10.0" fill="#F5392A"/>
<rect x="121.16" y="525.48" width="10.0" height="10.0" fill="#F5392A"/>
<rect x="121.16" y="513.81" width="10.0" height="10.0" fill="#F5392A"/>
<rect x="121.16" y="502.14" width="10.0" height="10.0" fill="#F5392A"/>
<rect x="121.16" y="490.47" width="10.0" height="10.0" fill="#F5392A"/>
<rect x="121.16" y="478.80" width="10.0" height="10.0" fill="#F5392A"/>
<rect x="132.83" y="583.83" width="10.0" height="10.0" fill="#F5392A"/>
<rect x="132.83" y="572.16" width="10.0" height="10.0" fill="#F5392A"/>
<rect x="132.83" y="560.49" width="10.0" height="10.0" fill="#F5392A"/>
<rect x="132.83" y="548.82" width="10.0" height="10.0" fill="#F5392A"/>
<rect x="132.83" y="537.15" width="10.0" height="10.0" fill="#F5392A"/>
<rect x="132.83" y="525.48" width="10.0" height="10.0" fill="#F5392A"/>
<rect x="132.83" y="513.81" width="10.0" height="10.0" fill="#F5392A"/>
<rect x="132.83" y="502.14" width="10.0" height="10.0" fill="#F5392A"/>
<rect x="132.83" y="490.47" width="10.0" height="10.0" fill="#F5392A"/>
<rect x="132.83" y="478.80" width="10.0" height="10.0" fill="#F5392A"/>
<rect x="162.00" y="583.83" width="10.0" height="10.0" fill="#F1EE8E"/>
<rect x="162.00" y="572.16" width="10.0" height="10.0" fill="#F1EE8E"/>
<rect x="162.00" y="560.49" width="10.0" height="10.0" fill="#F1EE8E"/>
<rect x="162.00" y="548.82" width="10.0" height="10.0" fill="#F1EE8E"/>
<rect x="162.00" y="537.15" width="10.0" height="10.0" fill="#F1EE8E"/>
<rect x="162.00" y="525.48" width="10.0" height="10.0" fill="#F1EE8E"/>
<rect x="162.00" y="513.81" width="10.0" height="10.0" fill="#F1EE8E"/>
<rect x="162.00" y="502.14" width="10.0" height="10.0" fill="#F1EE8E"/>
<rect x="162.00" y="490.47" width="10.0" height="10.0" fill="#F1EE8E"/>
<rect x="162.00" y="478.80" width="10.0" height="10.0" fill="#F1EE8E"/>
<rect x="173.67" y="583.83" width="10.0" height="10.0" fill="#F1EE8E"/>
<rect x="173.67" y="572.16" width="10.0" height="10.0" fill="#F1EE8E"/>
<rect x="173.67" y="560.49" width="10.0" height="10.0" fill="#F1EE8E"/>
<rect x="173.67" y="548.82" width="10.0" height="10.0" fill="#F1EE8E"/>
<rect x="173.67" y="537.15" width="10.0" height="10.0" fill="#E89D45"/>
<rect x="173.67" y="525.48" width="10.0" height="10.0" fill="#E89D45"/>
<rect x="173.67" y="513.81" width="10.0" height="10.0" fill="#E89D45"/>
<rect x="173.67" y="502.14" width="10.0" height="10.0" fill="#E89D45"/>
<rect x="173.67" y="490.47" width="10.0" height="10.0" fill="#E89D45"/>
<rect x="173.67" y="478.80" width="10.0" height="10.0" fill="#E89D45"/>
<rect x="185.34" y="583.83" width="10.0" height="10.0" fill="#E89D45"/>
<rect x="185.34" y="572.16" width="10.0" height="10.0" fill="#E89D45"/>
<rect x="185.34" y="560.49" width="10.0" height="10.0" fill="#E89D45"/>
<rect x="185.34" y="548.82" width="10.0" height="10.0" fill="#E89D45"/>
<rect x="185.34" y="537.15" width="10.0" height="10.0" fill="#E89D45"/>
<rect x="185.34" y="525.48" width="10.0" height="10.0" fill="#E89D45"/>
<rect x="185.34" y="513.81" width="10.0" height="10.0" fill="#E89D45"/>
<rect x="185.34" y="502.14" width="10.0" height="10.0" fill="#E89D45"/>
<rect x="185.34" y="490.47" width="10.0" height="10.0" fill="#E89D45"/>
<rect x="185.34" y="478.80" width="10.0" height="10.0" fill="#E89D45"/>
<rect x="197.01" y="583.83" width="10.0" height="10.0" fill="#E89D45"/>
<rect x="197.01" y="572.16" width="10.0" height="10.0" fill="#E89D45"/>
<rect x="197.01" y="560.49" width="10.0" height="10.0" fill="#E89D45"/>
<rect x="197.01" y="548.82" width="10.0" height="10.0" fill="#E89D45"/>
<rect x="197.01" y="537.15" width="10.0" height="10.0" fill="#E89D45"/>
<rect x="197.01" y="525.48" width="10.0" height="10.0" fill="#E89D45"/>
<rect x="197.01" y="513.81" width="10.0" height="10.0" fill="#E89D45"/>
<rect x="197.01" y="502.14" width="10.0" height="10.0" fill="#E89D45"/>
<rect x="197.01" y="490.47" width="10.0" height="10.0" fill="#E89D45"/>
<rect x="197.01" y="478.80" width="10.0" height="10.0" fill="#E89D45"/>
<rect x="208.68" y="583.83" width="10.0" height="10.0" fill="#E89D45"/>
<rect x="208.68" y="572.16" width="10.0" height="10.0" fill="#E89D45"/>
<rect x="208.68" y="560.49" width="10.0" height="10.0" fill="#E89D45"/>
<rect x="208.68" y="548.82" width="10.0" height="10.0" fill="#E89D45"/>
<rect x="208.68" y="537.15" width="10.0" height="10.0" fill="#E89D45"/>
<rect x="208.68" y="525.48" width="10.0" height="10.0" fill="#E89D45"/>
<rect x="208.68" y="513.81" width="10.0" height="10.0" fill="#E89D45"/>
<rect x="208.68" y="502.14" width="10.0" height="10.0" fill="#E89D45"/>
<rect x="208.68" y="490.47" width="10.0" height="10.0" fill="#E89D45"/>
<rect x="208.68" y="478.80" width="10.0" height="10.0" fill="#E89D45"/>
<rect x="220.35" y="583.83" width="10.0" height="10.0" fill="#E89D45"/>
<rect x="220.35" y="572.16" width="10.0" height="10.0" fill="#E89D45"/>
<rect x="220.35" y="560.49" width="10.0" height="10.0" fill="#F5392A"/>
<rect x="220.35" y="548.82" width="10.0" height="10.0" fill="#F5392A"/>
<rect x="220.35" y="537.15" width="10.0" height="10.0" fill="#F5392A"/>
<rect x="220.35" y="525.48" width="10.0" height="10.0" fill="#F5392A"/>
<rect x="220.35" y="513.81" width="10.0" height="10.0" fill="#F5392A"/>
<rect x="220.35" y="502.14" width="10.0" height="10.0" fill="#F5392A"/>
<rect x="220.35" y="490.47" width="10.0" height="10.0" fill="#F5392A"/>
<rect x="220.35" y="478.80" width="10.0" height="10.0" fill="#F5392A"/>
<rect x="232.02" y="583.83" width="10.0" height="10.0" fill="#F5392A"/>
<rect x="232.02" y="572.16" width="10.0" height="10.0" fill="#F5392A"/>
<rect x="232.02" y="560.49" width="10.0" height="10.0" fill="#F5392A"/>
<rect x="232.02" y="548.82" width="10.0" height="10.0" fill="#F5392A"/>
<rect x="232.02" y="537.15" width="10.0" height="10.0" fill="#F5392A"/>
<rect x="232.02" y="525.48" width="10.0" height="10.0" fill="#F5392A"/>
<rect x="232.02" y="513.81" width="10.0" height="10.0" fill="#F5392A"/>
<rect x="232.02" y="502.14" width="10.0" height="10.0" fill="#F5392A"/>
<rect x="232.02" y="490.47" width="10.0" height="10.0" fill="#F5392A"/>
<rect x="232.02" y="478.80" width="10.0" height="10.0" fill="#F5392A"/>
<rect x="243.69" y="583.83" width="10.0" height="10.0" fill="#F5392A"/>
<rect x="243.69" y="572.16" width="10.0" height="10.0" fill="#F5392A"/>
<rect x="243.69" y="560.49" width="10.0" height="10.0" fill="#F5392A"/>
<rect x="243.69" y="548.82" width="10.0" height="10.0" fill="#F5392A"/>
<rect x="243.69" y="537.15" width="10.0" height="10.0" fill="#F5392A"/>
<rect x="243.69" y="525.48" width="10.0" height="10.0" fill="#F5392A"/>
<rect x="243.69" y="513.81" width="10.0" height="10.0" fill="#F5392A"/>
<rect x="243.69" y="502.14" width="10.0" height="10.0" fill="#F5392A"/>
<rect x="243.69" y="490.47" width="10.0" height="10.0" fill="#F5392A"/>
<rect x="243.69" y="478.80" width="10.0" height="10.0" fill="#F5392A"/>
<rect x="255.36" y="583.83" width="10.0" height="10.0" fill="#F5392A"/>
<rect x="255.36" y="572.16" width="10.0" height="10.0" fill="#F5392A"/>
<rect x="255.36" y="560.49" width="10.0" height="10.0" fill="#F5392A"/>
<rect x="255.36" y="548.82" width="10.0" height="10.0" fill="#F5392A"/>
<rect x="255.36" y="537.15" width="10.0" height="10.0" fill="#F5392A"/>
<rect x="255.36" y="525.48" width="10.0" height="10.0" fill="#F5392A"/>
<rect x="255.36" y="513.81" width="10.0" height="10.0" fill="#F5392A"/>
<rect x="255.36" y="502.14" width="10.0" height="10.0" fill="#F5392A"/>
<rect x="255.36" y="490.47" width="10.0" height="10.0" fill="#F5392A"/>
<rect x="255.36" y="478.80" width="10.0" height="10.0" fill="#F5392A"/>
<rect x="267.03" y="583.83" width="10.0" height="10.0" fill="#F5392A"/>
<rect x="267.03" y="572.16" width="10.0" height="10.0" fill="#F5392A"/>
<rect x="267.03" y="560.49" width="10.0" height="10.0" fill="#F5392A"/>
<rect x="267.03" y="548.82" width="10.0" height="10.0" fill="#F5392A"/>
<rect x="267.03" y="537.15" width="10.0" height="10.0" fill="#F5392A"/>
<rect x="267.03" y="525.48" width="10.0" height="10.0" fill="#F5392A"/>
<rect x="267.03" y="513.81" width="10.0" height="10.0" fill="#F5392A"/>
<rect x="267.03" y="502.14" width="10.0" height="10.0" fill="#F5392A"/>
<rect x="267.03" y="490.47" width="10.0" height="10.0" fill="#F5392A"/>
<rect x="267.03" y="478.80" width="10.0" height="10.0" fill="#F5392A"/>
<rect x="297.00" y="583.83" width="10.0" height="10.0" fill="#F1EE8E"/>
<rect x="297.00" y="572.16" width="10.0" height="10.0" fill="#F1EE8E"/>
<rect x="297.00" y="560.49" width="10.0" height="10.0" fill="#F1EE8E"/>
<rect x="297.00" y="548.82" width="10.0" height="10.0" fill="#F1EE8E"/>
<rect x="297.00" y="537.15" width="10.0" height="10.0" fill="#F1EE8E"/>
<rect x="297.00" y="525.48" width="10.0" height="10.0" fill="#F1EE8E"/>
<rect x="297.00" y="513.81" width="10.0" height="10.0" fill="#F1EE8E"/>
<rect x="297.00" y="502.14" width="10.0" height="10.0" fill="#F1EE8E"/>
<rect x="297.00" y="490.47" width="10.0" height="10.0" fill="#F1EE8E"/>
<rect x="297.00" y="478.80" width="10.0" height="10.0" fill="#F1EE8E"/>
<rect x="308.67" y="583.83" width="10.0" height="10.0" fill="#F1EE8E"/>
<rect x="308.67" y="572.16" width="10.0" height="10.0" fill="#F1EE8E"/>
<rect x="308.67" y="560.49" width="10.0" height="10.0" fill="#F1EE8E"/>
<rect x="308.67" y="548.82" width="10.0" height="10.0" fill="#F1EE8E"/>
<rect x="308.67" y="537.15" width="10.0" height="10.0" fill="#F1EE8E"/>
<rect x="308.67" y="525.48" width="10.0" height="10.0" fill="#F1EE8E"/>
<rect x="308.67" y="513.81" width="10.0" height="10.0" fill="#F1EE8E"/>
<rect x="308.67" y="502.14" width="10.0" height="10.0" fill="#F1EE8E"/>
<rect x="308.67" y="490.47" width="10.0" height="10.0" fill="#F1EE8E"/>
<rect x="308.67" y="478.80" width="10.0" height="10.0" fill="#F1EE8E"/>
<rect x="320.34" y="583.83" width="10.0" height="10.0" fill="#F1EE8E"/>
<rect x="320.34" y="572.16" width="10.0" height="10.0" fill="#F1EE8E"/>
<rect x="320.34" y="560.49" width="10.0" height="10.0" fill="#F1EE8E"/>
<rect x="320.34" y="548.82" width="10.0" height="10.0" fill="#E89D45"/>
<rect x="320.34" y="537.15" width="10.0" height="10.0" fill="#E89D45"/>
<rect x="320.34" y="525.48" width="10.0" height="10.0" fill="#E89D45"/>
<rect x="320.34" y="513.81" width="10.0" height="10.0" fill="#E89D45"/>
<rect x="320.34" y="502.14" width="10.0" height="10.0" fill="#E89D45"/>
<rect x="320.34" y="490.47" width="10.0" height="10.0" fill="#E89D45"/>
<rect x="320.34" y="478.80" width="10.0" height="10.0" fill="#E89D45"/>
<rect x="332.01" y="583.83" width="10.0" height="10.0" fill="#E89D45"/>
<rect x="332.01" y="572.16" width="10.0" height="10.0" fill="#E89D45"/>
<rect x="332.01" y="560.49" width="10.0" height="10.0" fill="#E89D45"/>
<rect x="332.01" y="548.82" width="10.0" height="10.0" fill="#E89D45"/>
<rect x="332.01" y="537.15" width="10.0" height="10.0" fill="#E89D45"/>
<rect x="332.01" y="525.48" width="10.0" height="10.0" fill="#E89D45"/>
<rect x="332.01" y="513.81" width="10.0" height="10.0" fill="#E89D45"/>
<rect x="332.01" y="502.14" width="10.0" height="10.0" fill="#E89D45"/>
<rect x="332.01" y="490.47" width="10.0" height="10.0" fill="#E89D45"/>
<rect x="332.01" y="478.80" width="10.0" height="10.0" fill="#E89D45"/>
<rect x="343.68" y="583.83" width="10.0" height="10.0" fill="#E89D45"/>
<rect x="343.68" y="572.16" width="10.0" height="10.0" fill="#E89D45"/>
<rect x="343.68" y="560.49" width="10.0" height="10.0" fill="#E89D45"/>
<rect x="343.68" y="548.82" width="10.0" height="10.0" fill="#E89D45"/>
<rect x="343.68" y="537.15" width="10.0" height="10.0" fill="#E89D45"/>
<rect x="343.68" y="525.48" width="10.0" height="10.0" fill="#E89D45"/>
<rect x="343.68" y="513.81" width="10.0" height="10.0" fill="#E89D45"/>
<rect x="343.68" y="502.14" width="10.0" height="10.0" fill="#E89D45"/>
<rect x="343.68" y="490.47" width="10.0" height="10.0" fill="#E89D45"/>
<rect x="343.68" y="478.80" width="10.0" height="10.0" fill="#E89D45"/>
<rect x="355.35" y="583.83" width="10.0" height="10.0" fill="#E89D45"/>
<rect x="355.35" y="572.16" width="10.0" height="10.0" fill="#E89D45"/>
<rect x="355.35" y="560.49" width="10.0" height="10.0" fill="#E89D45"/>
<rect x="355.35" y="548.82" width="10.0" height="10.0" fill="#E89D45"/>
<rect x="355.35" y="537.15" width="10.0" height="10.0" fill="#E89D45"/>
<rect x="355.35" y="525.48" width="10.0" height="10.0" fill="#E89D45"/>
<rect x="355.35" y="513.81" width="10.0" height="10.0" fill="#E89D45"/>
<rect x="355.35" y="502.14" width="10.0" height="10.0" fill="#E89D45"/>
<rect x="355.35" y="490.47" width="10.0" height="10.0" fill="#E89D45"/>
<rect x="355.35" y="478.80" width="10.0" height="10.0" fill="#E89D45"/>
<rect x="367.02" y="583.83" width="10.0" height="10.0" fill="#E89D45"/>
<rect x="367.02" y="572.16" width="10.0" height="10.0" fill="#E89D45"/>
<rect x="367.02" y="560.49" width="10.0" height="10.0" fill="#E89D45"/>
<rect x="367.02" y="548.82" width="10.0" height="10.0" fill="#E89D45"/>
<rect x="367.02" y="537.15" width="10.0" height="10.0" fill="#E89D45"/>
<rect x="367.02" y="525.48" width="10.0" height="10.0" fill="#E89D45"/>
<rect x="367.02" y="513.81" width="10.0" height="10.0" fill="#F5392A"/>
<rect x="367.02" y="502.14" width="10.0" height="10.0" fill="#F5392A"/>
<rect x="367.02" y="490.47" width="10.0" height="10.0" fill="#F5392A"/>
<rect x="367.02" y="478.80" width="10.0" height="10.0" fill="#F5392A"/>
<rect x="378.69" y="583.83" width="10.0" height="10.0" fill="#F5392A"/>
<rect x="378.69" y="572.16" width="10.0" height="10.0" fill="#F5392A"/>
<rect x="378.69" y="560.49" width="10.0" height="10.0" fill="#F5392A"/>
<rect x="378.69" y="548.82" width="10.0" height="10.0" fill="#F5392A"/>
<rect x="378.69" y="537.15" width="10.0" height="10.0" fill="#F5392A"/>
<rect x="378.69" y="525.48" width="10.0" height="10.0" fill="#F5392A"/>
<rect x="378.69" y="513.81" width="10.0" height="10.0" fill="#F5392A"/>
<rect x="378.69" y="502.14" width="10.0" height="10.0" fill="#F5392A"/>
<rect x="378.69" y="490.47" width="10.0" height="10.0" fill="#F5392A"/>
<rect x="378.69" y="478.80" width="10.0" height="10.0" fill="#F5392A"/>
<rect x="390.36" y="583.83" width="10.0" height="10.0" fill="#F5392A"/>
<rect x="390.36" y="572.16" width="10.0" height="10.0" fill="#F5392A"/>
<rect x="390.36" y="560.49" width="10.0" height="10.0" fill="#F5392A"/>
<rect x="390.36" y="548.82" width="10.0" height="10.0" fill="#F5392A"/>
<rect x="390.36" y="537.15" width="10.0" height="10.0" fill="#F5392A"/>
<rect x="390.36" y="525.48" width="10.0" height="10.0" fill="#F5392A"/>
<rect x="390.36" y="513.81" width="10.0" height="10.0" fill="#F5392A"/>
<rect x="390.36" y="502.14" width="10.0" height="10.0" fill="#F5392A"/>
<rect x="390.36" y="490.47" width="10.0" height="10.0" fill="#F5392A"/>
<rect x="390.36" y="478.80" width="10.0" height="10.0" fill="#F5392A"/>
<rect x="402.03" y="583.83" width="10.0" height="10.0" fill="#F5392A"/>
<rect x="402.03" y="572.16" width="10.0" height="10.0" fill="#F5392A"/>
<rect x="402.03" y="560.49" width="10.0" height="10.0" fill="#F5392A"/>
<rect x="402.03" y="548.82" width="10.0" height="10.0" fill="#F5392A"/>
<rect x="402.03" y="537.15" width="10.0" height="10.0" fill="#F5392A"/>
<rect x="402.03" y="525.48" width="10.0" height="10.0" fill="#F5392A"/>
<rect x="402.03" y="513.81" width="10.0" height="10.0" fill="#F5392A"/>
<rect x="402.03" y="502.14" width="10.0" height="10.0" fill="#F5392A"/>
<rect x="402.03" y="490.47" width="10.0" height="10.0" fill="#F5392A"/>
<rect x="402.03" y="478.80" width="10.0" height="10.0" fill="#F5392A"/>
<rect x="432.20" y="583.83" width="10.0" height="10.0" fill="#F1EE8E"/>
<rect x="432.20" y="572.16" width="10.0" height="10.0" fill="#F1EE8E"/>
<rect x="432.20" y="560.49" width="10.0" height="10.0" fill="#F1EE8E"/>
<rect x="432.20" y="548.82" width="10.0" height="10.0" fill="#F1EE8E"/>
<rect x="432.20" y="537.15" width="10.0" height="10.0" fill="#F1EE8E"/>
<rect x="432.20" y="525.48" width="10.0" height="10.0" fill="#F1EE8E"/>
<rect x="432.20" y="513.81" width="10.0" height="10.0" fill="#F1EE8E"/>
<rect x="432.20" y="502.14" width="10.0" height="10.0" fill="#F1EE8E"/>
<rect x="432.20" y="490.47" width="10.0" height="10.0" fill="#F1EE8E"/>
<rect x="432.20" y="478.80" width="10.0" height="10.0" fill="#F1EE8E"/>
<rect x="443.87" y="583.83" width="10.0" height="10.0" fill="#F1EE8E"/>
<rect x="443.87" y="572.16" width="10.0" height="10.0" fill="#F1EE8E"/>
<rect x="443.87" y="560.49" width="10.0" height="10.0" fill="#F1EE8E"/>
<rect x="443.87" y="548.82" width="10.0" height="10.0" fill="#F1EE8E"/>
<rect x="443.87" y="537.15" width="10.0" height="10.0" fill="#F1EE8E"/>
<rect x="443.87" y="525.48" width="10.0" height="10.0" fill="#F1EE8E"/>
<rect x="443.87" y="513.81" width="10.0" height="10.0" fill="#F1EE8E"/>
<rect x="443.87" y="502.14" width="10.0" height="10.0" fill="#F1EE8E"/>
<rect x="443.87" y="490.47" width="10.0" height="10.0" fill="#F1EE8E"/>
<rect x="443.87" y="478.80" width="10.0" height="10.0" fill="#F1EE8E"/>
<rect x="455.54" y="583.83" width="10.0" height="10.0" fill="#F1EE8E"/>
<rect x="455.54" y="572.16" width="10.0" height="10.0" fill="#F1EE8E"/>
<rect x="455.54" y="560.49" width="10.0" height="10.0" fill="#F1EE8E"/>
<rect x="455.54" y="548.82" width="10.0" height="10.0" fill="#F1EE8E"/>
<rect x="455.54" y="537.15" width="10.0" height="10.0" fill="#F1EE8E"/>
<rect x="455.54" y="525.48" width="10.0" height="10.0" fill="#F1EE8E"/>
<rect x="455.54" y="513.81" width="10.0" height="10.0" fill="#F1EE8E"/>
<rect x="455.54" y="502.14" width="10.0" height="10.0" fill="#F1EE8E"/>
<rect x="455.54" y="490.47" width="10.0" height="10.0" fill="#F1EE8E"/>
<rect x="455.54" y="478.80" width="10.0" height="10.0" fill="#F1EE8E"/>
<rect x="467.21" y="583.83" width="10.0" height="10.0" fill="#F1EE8E"/>
<rect x="467.21" y="572.16" width="10.0" height="10.0" fill="#F1EE8E"/>
<rect x="467.21" y="560.49" width="10.0" height="10.0" fill="#F1EE8E"/>
<rect x="467.21" y="548.82" width="10.0" height="10.0" fill="#F1EE8E"/>
<rect x="467.21" y="537.15" width="10.0" height="10.0" fill="#F1EE8E"/>
<rect x="467.21" y="525.48" width="10.0" height="10.0" fill="#E89D45"/>
<rect x="467.21" y="513.81" width="10.0" height="10.0" fill="#E89D45"/>
<rect x="467.21" y="502.14" width="10.0" height="10.0" fill="#E89D45"/>
<rect x="467.21" y="490.47" width="10.0" height="10.0" fill="#E89D45"/>
<rect x="467.21" y="478.80" width="10.0" height="10.0" fill="#E89D45"/>
<rect x="478.88" y="583.83" width="10.0" height="10.0" fill="#E89D45"/>
<rect x="478.88" y="572.16" width="10.0" height="10.0" fill="#E89D45"/>
<rect x="478.88" y="560.49" width="10.0" height="10.0" fill="#E89D45"/>
<rect x="478.88" y="548.82" width="10.0" height="10.0" fill="#E89D45"/>
<rect x="478.88" y="537.15" width="10.0" height="10.0" fill="#E89D45"/>
<rect x="478.88" y="525.48" width="10.0" height="10.0" fill="#E89D45"/>
<rect x="478.88" y="513.81" width="10.0" height="10.0" fill="#E89D45"/>
<rect x="478.88" y="502.14" width="10.0" height="10.0" fill="#E89D45"/>
<rect x="478.88" y="490.47" width="10.0" height="10.0" fill="#E89D45"/>
<rect x="478.88" y="478.80" width="10.0" height="10.0" fill="#E89D45"/>
<rect x="490.55" y="583.83" width="10.0" height="10.0" fill="#E89D45"/>
<rect x="490.55" y="572.16" width="10.0" height="10.0" fill="#E89D45"/>
<rect x="490.55" y="560.49" width="10.0" height="10.0" fill="#E89D45"/>
<rect x="490.55" y="548.82" width="10.0" height="10.0" fill="#E89D45"/>
<rect x="490.55" y="537.15" width="10.0" height="10.0" fill="#E89D45"/>
<rect x="490.55" y="525.48" width="10.0" height="10.0" fill="#E89D45"/>
<rect x="490.55" y="513.81" width="10.0" height="10.0" fill="#E89D45"/>
<rect x="490.55" y="502.14" width="10.0" height="10.0" fill="#E89D45"/>
<rect x="490.55" y="490.47" width="10.0" height="10.0" fill="#E89D45"/>
<rect x="490.55" y="478.80" width="10.0" height="10.0" fill="#E89D45"/>
<rect x="502.22" y="583.83" width="10.0" height="10.0" fill="#E89D45"/>
<rect x="502.22" y="572.16" width="10.0" height="10.0" fill="#E89D45"/>
<rect x="502.22" y="560.49" width="10.0" height="10.0" fill="#E89D45"/>
<rect x="502.22" y="548.82" width="10.0" height="10.0" fill="#E89D45"/>
<rect x="502.22" y="537.15" width="10.0" height="10.0" fill="#E89D45"/>
<rect x="502.22" y="525.48" width="10.0" height="10.0" fill="#E89D45"/>
<rect x="502.22" y="513.81" width="10.0" height="10.0" fill="#E89D45"/>
<rect x="502.22" y="502.14" width="10.0" height="10.0" fill="#E89D45"/>
<rect x="502.22" y="490.47" width="10.0" height="10.0" fill="#E89D45"/>
<rect x="502.22" y="478.80" width="10.0" height="10.0" fill="#F5392A"/>
<rect x="513.89" y="583.83" width="10.0" height="10.0" fill="#F5392A"/>
<rect x="513.89" y="572.16" width="10.0" height="10.0" fill="#F5392A"/>
<rect x="513.89" y="560.49" width="10.0" height="10.0" fill="#F5392A"/>
<rect x="513.89" y="548.82" width="10.0" height="10.0" fill="#F5392A"/>
<rect x="513.89" y="537.15" width="10.0" height="10.0" fill="#F5392A"/>
<rect x="513.89" y="525.48" width="10.0" height="10.0" fill="#F5392A"/>
<rect x="513.89" y="513.81" width="10.0" height="10.0" fill="#F5392A"/>
<rect x="513.89" y="502.14" width="10.0" height="10.0" fill="#F5392A"/>
<rect x="513.89" y="490.47" width="10.0" height="10.0" fill="#F5392A"/>
<rect x="513.89" y="478.80" width="10.0" height="10.0" fill="#F5392A"/>
<rect x="525.56" y="583.83" width="10.0" height="10.0" fill="#F5392A"/>
<rect x="525.56" y="572.16" width="10.0" height="10.0" fill="#F5392A"/>
<rect x="525.56" y="560.49" width="10.0" height="10.0" fill="#F5392A"/>
<rect x="525.56" y="548.82" width="10.0" height="10.0" fill="#F5392A"/>
<rect x="525.56" y="537.15" width="10.0" height="10.0" fill="#F5392A"/>
<rect x="525.56" y="525.48" width="10.0" height="10.0" fill="#F5392A"/>
<rect x="525.56" y="513.81" width="10.0" height="10.0" fill="#F5392A"/>
<rect x="525.56" y="502.14" width="10.0" height="10.0" fill="#F5392A"/>
<rect x="525.56" y="490.47" width="10.0" height="10.0" fill="#F5392A"/>
<rect x="525.56" y="478.80" width="10.0" height="10.0" fill="#F5392A"/>
<rect x="537.23" y="583.83" width="10.0" height="10.0" fill="#F5392A"/>
<rect x="537.23" y="572.16" width="10.0" height="10.0" fill="#F5392A"/>
<rect x="537.23" y="560.49" width="10.0" height="10.0" fill="#F5392A"/>
<rect x="537.23" y="548.82" width="10.0" height="10.0" fill="#F5392A"/>
<rect x="537.23" y="537.15" width="10.0" height="10.0" fill="#F5392A"/>
<rect x="537.23" y="525.48" width="10.0" height="10.0" fill="#F5392A"/>
<rect x="537.23" y="513.81" width="10.0" height="10.0" fill="#F5392A"/>
<rect x="537.23" y="502.14" width="10.0" height="10.0" fill="#F5392A"/>
<rect x="537.23" y="490.47" width="10.0" height="10.0" fill="#F5392A"/>
<rect x="537.23" y="478.80" width="10.0" height="10.0" fill="#F5392A"/>
<rect x="565.00" y="583.83" width="10.0" height="10.0" fill="#F1EE8E"/>
<rect x="565.00" y="572.16" width="10.0" height="10.0" fill="#F1EE8E"/>
<rect x="565.00" y="560.49" width="10.0" height="10.0" fill="#F1EE8E"/>
<rect x="565.00" y="548.82" width="10.0" height="10.0" fill="#F1EE8E"/>
<rect x="565.00" y="537.15" width="10.0" height="10.0" fill="#F1EE8E"/>
<rect x="565.00" y="525.48" width="10.0" height="10.0" fill="#F1EE8E"/>
<rect x="565.00" y="513.81" width="10.0" height="10.0" fill="#F1EE8E"/>
<rect x="565.00" y="502.14" width="10.0" height="10.0" fill="#F1EE8E"/>
<rect x="565.00" y="490.47" width="10.0" height="10.0" fill="#F1EE8E"/>
<rect x="565.00" y="478.80" width="10.0" height="10.0" fill="#F1EE8E"/>
<rect x="576.67" y="583.83" width="10.0" height="10.0" fill="#F1EE8E"/>
<rect x="576.67" y="572.16" width="10.0" height="10.0" fill="#F1EE8E"/>
<rect x="576.67" y="560.49" width="10.0" height="10.0" fill="#F1EE8E"/>
<rect x="576.67" y="548.82" width="10.0" height="10.0" fill="#F1EE8E"/>
<rect x="576.67" y="537.15" width="10.0" height="10.0" fill="#F1EE8E"/>
<rect x="576.67" y="525.48" width="10.0" height="10.0" fill="#F1EE8E"/>
<rect x="576.67" y="513.81" width="10.0" height="10.0" fill="#F1EE8E"/>
<rect x="576.67" y="502.14" width="10.0" height="10.0" fill="#F1EE8E"/>
<rect x="576.67" y="490.47" width="10.0" height="10.0" fill="#F1EE8E"/>
<rect x="576.67" y="478.80" width="10.0" height="10.0" fill="#F1EE8E"/>
<rect x="588.34" y="583.83" width="10.0" height="10.0" fill="#F1EE8E"/>
<rect x="588.34" y="572.16" width="10.0" height="10.0" fill="#F1EE8E"/>
<rect x="588.34" y="560.49" width="10.0" height="10.0" fill="#F1EE8E"/>
<rect x="588.34" y="548.82" width="10.0" height="10.0" fill="#F1EE8E"/>
<rect x="588.34" y="537.15" width="10.0" height="10.0" fill="#F1EE8E"/>
<rect x="588.34" y="525.48" width="10.0" height="10.0" fill="#F1EE8E"/>
<rect x="588.34" y="513.81" width="10.0" height="10.0" fill="#F1EE8E"/>
<rect x="588.34" y="502.14" width="10.0" height="10.0" fill="#F1EE8E"/>
<rect x="588.34" y="490.47" width="10.0" height="10.0" fill="#F1EE8E"/>
<rect x="588.34" y="478.80" width="10.0" height="10.0" fill="#F1EE8E"/>
<rect x="600.01" y="583.83" width="10.0" height="10.0" fill="#F1EE8E"/>
<rect x="600.01" y="572.16" width="10.0" height="10.0" fill="#F1EE8E"/>
<rect x="600.01" y="560.49" width="10.0" height="10.0" fill="#F1EE8E"/>
<rect x="600.01" y="548.82" width="10.0" height="10.0" fill="#F1EE8E"/>
<rect x="600.01" y="537.15" width="10.0" height="10.0" fill="#F1EE8E"/>
<rect x="600.01" y="525.48" width="10.0" height="10.0" fill="#F1EE8E"/>
<rect x="600.01" y="513.81" width="10.0" height="10.0" fill="#F1EE8E"/>
<rect x="600.01" y="502.14" width="10.0" height="10.0" fill="#F1EE8E"/>
<rect x="600.01" y="490.47" width="10.0" height="10.0" fill="#F1EE8E"/>
<rect x="600.01" y="478.80" width="10.0" height="10.0" fill="#F1EE8E"/>
<rect x="611.68" y="583.83" width="10.0" height="10.0" fill="#F1EE8E"/>
<rect x="611.68" y="572.16" width="10.0" height="10.0" fill="#E89D45"/>
<rect x="611.68" y="560.49" width="10.0" height="10.0" fill="#E89D45"/>
<rect x="611.68" y="548.82" width="10.0" height="10.0" fill="#E89D45"/>
<rect x="611.68" y="537.15" width="10.0" height="10.0" fill="#E89D45"/>
<rect x="611.68" y="525.48" width="10.0" height="10.0" fill="#E89D45"/>
<rect x="611.68" y="513.81" width="10.0" height="10.0" fill="#E89D45"/>
<rect x="611.68" y="502.14" width="10.0" height="10.0" fill="#E89D45"/>
<rect x="611.68" y="490.47" width="10.0" height="10.0" fill="#E89D45"/>
<rect x="611.68" y="478.80" width="10.0" height="10.0" fill="#E89D45"/>
<rect x="623.35" y="583.83" width="10.0" height="10.0" fill="#E89D45"/>
<rect x="623.35" y="572.16" width="10.0" height="10.0" fill="#E89D45"/>
<rect x="623.35" y="560.49" width="10.0" height="10.0" fill="#E89D45"/>
<rect x="623.35" y="548.82" width="10.0" height="10.0" fill="#E89D45"/>
<rect x="623.35" y="537.15" width="10.0" height="10.0" fill="#E89D45"/>
<rect x="623.35" y="525.48" width="10.0" height="10.0" fill="#E89D45"/>
<rect x="623.35" y="513.81" width="10.0" height="10.0" fill="#E89D45"/>
<rect x="623.35" y="502.14" width="10.0" height="10.0" fill="#E89D45"/>
<rect x="623.35" y="490.47" width="10.0" height="10.0" fill="#E89D45"/>
<rect x="623.35" y="478.80" width="10.0" height="10.0" fill="#E89D45"/>
<rect x="635.02" y="583.83" width="10.0" height="10.0" fill="#E89D45"/>
<rect x="635.02" y="572.16" width="10.0" height="10.0" fill="#E89D45"/>
<rect x="635.02" y="560.49" width="10.0" height="10.0" fill="#E89D45"/>
<rect x="635.02" y="548.82" width="10.0" height="10.0" fill="#E89D45"/>
<rect x="635.02" y="537.15" width="10.0" height="10.0" fill="#E89D45"/>
<rect x="635.02" y="525.48" width="10.0" height="10.0" fill="#E89D45"/>
<rect x="635.02" y="513.81" width="10.0" height="10.0" fill="#E89D45"/>
<rect x="635.02" y="502.14" width="10.0" height="10.0" fill="#E89D45"/>
<rect x="635.02" y="490.47" width="10.0" height="10.0" fill="#E89D45"/>
<rect x="635.02" y="478.80" width="10.0" height="10.0" fill="#E89D45"/>
<rect x="646.69" y="583.83" width="10.0" height="10.0" fill="#E89D45"/>
<rect x="646.69" y="572.16" width="10.0" height="10.0" fill="#E89D45"/>
<rect x="646.69" y="560.49" width="10.0" height="10.0" fill="#E89D45"/>
<rect x="646.69" y="548.82" width="10.0" height="10.0" fill="#E89D45"/>
<rect x="646.69" y="537.15" width="10.0" height="10.0" fill="#E89D45"/>
<rect x="646.69" y="525.48" width="10.0" height="10.0" fill="#F5392A"/>
<rect x="646.69" y="513.81" width="10.0" height="10.0" fill="#F5392A"/>
<rect x="646.69" y="502.14" width="10.0" height="10.0" fill="#F5392A"/>
<rect x="646.69" y="490.47" width="10.0" height="10.0" fill="#F5392A"/>
<rect x="646.69" y="478.80" width="10.0" height="10.0" fill="#F5392A"/>
<rect x="658.36" y="583.83" width="10.0" height="10.0" fill="#F5392A"/>
<rect x="658.36" y="572.16" width="10.0" height="10.0" fill="#F5392A"/>
<rect x="658.36" y="560.49" width="10.0" height="10.0" fill="#F5392A"/>
<rect x="658.36" y="548.82" width="10.0" height="10.0" fill="#F5392A"/>
<rect x="658.36" y="537.15" width="10.0" height="10.0" fill="#F5392A"/>
<rect x="658.36" y="525.48" width="10.0" height="10.0" fill="#F5392A"/>
<rect x="658.36" y="513.81" width="10.0" height="10.0" fill="#F5392A"/>
<rect x="658.36" y="502.14" width="10.0" height="10.0" fill="#F5392A"/>
<rect x="658.36" y="490.47" width="10.0" height="10.0" fill="#F5392A"/>
<rect x="658.36" y="478.80" width="10.0" height="10.0" fill="#F5392A"/>
<rect x="670.03" y="583.83" width="10.0" height="10.0" fill="#F5392A"/>
<rect x="670.03" y="572.16" width="10.0" height="10.0" fill="#F5392A"/>
<rect x="670.03" y="560.49" width="10.0" height="10.0" fill="#F5392A"/>
<rect x="670.03" y="548.82" width="10.0" height="10.0" fill="#F5392A"/>
<rect x="670.03" y="537.15" width="10.0" height="10.0" fill="#F5392A"/>
<rect x="670.03" y="525.48" width="10.0" height="10.0" fill="#F5392A"/>
<rect x="670.03" y="513.81" width="10.0" height="10.0" fill="#F5392A"/>
<rect x="670.03" y="502.14" width="10.0" height="10.0" fill="#F5392A"/>
<rect x="670.03" y="490.47" width="10.0" height="10.0" fill="#F5392A"/>
<rect x="670.03" y="478.80" width="10.0" height="10.0" fill="#F5392A"/>
<text transform="translate(0.2,11.75) scale(1.04,1)" font-size="15" font-weight="normal" text-anchor="start" stroke="#000" stroke-width="0.42">(i)</text>
<text transform="translate(361.0,11.75) scale(1.1,1)" font-size="15" font-weight="normal" text-anchor="start" stroke="#000" stroke-width="0.42">(ii)</text>
<text transform="translate(1.3,257.5) scale(1.1,1)" font-size="15" font-weight="normal" text-anchor="start" stroke="#000" stroke-width="0.42">(iii)</text>
<text transform="translate(0.1,459.3) scale(1.1,1)" font-size="15" font-weight="normal" text-anchor="start" stroke="#000" stroke-width="0.42">(iv)</text>
<text transform="translate(224.4,234.4) scale(1.0,1)" font-size="16.4" font-weight="bold" text-anchor="start" >CSF EVs population distribution</text>
<rect x="206.6" y="240.2" width="284.6" height="3.1" fill="#000"/>
<text transform="translate(214.3,439.7) scale(1.0,1)" font-size="16.35" font-weight="bold" text-anchor="start" >Serum EVs population distribution</text>
<rect x="200.5" y="445.25" width="297" height="3.1" fill="#000"/>
<text transform="translate(54.0,266.75) scale(1.0,1)" font-size="16.3" font-weight="normal" text-anchor="start" stroke="#000" stroke-width="0.25">Exomere</text>
<text transform="translate(199.4,267.95) scale(1.0,1)" font-size="16.3" font-weight="normal" text-anchor="start" stroke="#000" stroke-width="0.25">Exo-S</text>
<text transform="translate(339.3,267.75) scale(1.0,1)" font-size="16.3" font-weight="normal" text-anchor="start" stroke="#000" stroke-width="0.25">Exo-L</text>
<text transform="translate(452.3,267.85) scale(1.0,1)" font-size="16.3" font-weight="normal" text-anchor="start" stroke="#000" stroke-width="0.25">Large EVs</text>
<text transform="translate(575.8,268.25) scale(1.0,1)" font-size="16.3" font-weight="normal" text-anchor="start" stroke="#000" stroke-width="0.25">Microvesicles</text>
<text transform="translate(53.8,468.25) scale(1.0,1)" font-size="16.3" font-weight="normal" text-anchor="start" stroke="#000" stroke-width="0.25">Exomere</text>
<text transform="translate(199.0,468.75) scale(1.0,1)" font-size="16.3" font-weight="normal" text-anchor="start" stroke="#000" stroke-width="0.25">Exo-S</text>
<text transform="translate(337.8,470.25) scale(1.0,1)" font-size="16.3" font-weight="normal" text-anchor="start" stroke="#000" stroke-width="0.25">Exo-L</text>
<text transform="translate(452.2,467.45) scale(1.0,1)" font-size="16.3" font-weight="normal" text-anchor="start" stroke="#000" stroke-width="0.25">Large EVs</text>
<text transform="translate(575.3,468.25) scale(1.0,1)" font-size="16.3" font-weight="normal" text-anchor="start" stroke="#000" stroke-width="0.25">Microvesicles</text>
<rect x="599.2" y="639.4" width="17.6" height="16.5" fill="#F1EE8E"/>
<rect x="599.2" y="661.3" width="17.6" height="16.5" fill="#E89D45"/>
<rect x="599.2" y="683.5" width="17.6" height="16.5" fill="#F5392A"/>
<text transform="translate(629.6,654.0) scale(1.0,1)" font-size="16.3" font-weight="normal" text-anchor="start" stroke="#000" stroke-width="0.25">V</text>
<text transform="translate(630.6,676.3) scale(1.0,1)" font-size="16.3" font-weight="normal" text-anchor="start" stroke="#000" stroke-width="0.25">R8</text>
<text transform="translate(630.2,697.6) scale(1.0,1)" font-size="16.3" font-weight="normal" text-anchor="start" stroke="#000" stroke-width="0.25">R24</text>
<text transform="translate(73.9,15.7) scale(1.265,1)" font-size="9.8" font-weight="bold" text-anchor="start" >CSF EVs from rotenone treated rats</text>
<path d="M116.50,162.3 V140.30 H148.90 V162.3" fill="none" stroke="#0000FF" stroke-width="1.8"/>
<path d="M167.90,162.3 V126.60 H199.90 V162.3" fill="none" stroke="#FF0000" stroke-width="1.8"/>
<path d="M219.20,162.3 V136.20 H251.70 V162.3" fill="none" stroke="#44DF1C" stroke-width="1.8"/>
<line x1="132.5" y1="129.5" x2="132.5" y2="149" stroke="#8080FF" stroke-width="1"/><line x1="124.1" y1="129.5" x2="140.9" y2="129.5" stroke="#8080FF" stroke-width="1"/><line x1="124.1" y1="149" x2="140.9" y2="149" stroke="#8080FF" stroke-width="1"/>
<line x1="184.0" y1="114.4" x2="184.0" y2="137.3" stroke="#FF7272" stroke-width="1"/><line x1="175.3" y1="114.4" x2="192.7" y2="114.4" stroke="#FF7272" stroke-width="1"/><line x1="175.3" y1="137.3" x2="192.7" y2="137.3" stroke="#FF7272" stroke-width="1"/>
<line x1="235.3" y1="126.4" x2="235.3" y2="144.4" stroke="#84E86C" stroke-width="1"/><line x1="226.8" y1="126.4" x2="243.8" y2="126.4" stroke="#84E86C" stroke-width="1"/><line x1="226.8" y1="144.4" x2="243.8" y2="144.4" stroke="#84E86C" stroke-width="1"/>
<ellipse cx="132.6" cy="60.7" rx="2.6" ry="2.1" fill="#0000FF"/><ellipse cx="132.4" cy="117.9" rx="2.6" ry="2.1" fill="#0000FF"/><ellipse cx="132.4" cy="137.2" rx="2.6" ry="2.1" fill="#0000FF"/><ellipse cx="118.1" cy="150.9" rx="2.6" ry="2.1" fill="#0000FF"/><ellipse cx="118.1" cy="156" rx="2.6" ry="2.1" fill="#0000FF"/><ellipse cx="123.7" cy="152" rx="2.6" ry="2.1" fill="#0000FF"/><ellipse cx="129.3" cy="154.5" rx="2.6" ry="2.1" fill="#0000FF"/><ellipse cx="135.4" cy="152.8" rx="2.6" ry="2.1" fill="#0000FF"/><ellipse cx="141.1" cy="156.1" rx="2.6" ry="2.1" fill="#0000FF"/><ellipse cx="146.8" cy="154.3" rx="2.6" ry="2.1" fill="#0000FF"/>
<rect x="181.00" y="51.90" width="6" height="4.2" fill="#FF0000"/><rect x="181.00" y="60.80" width="6" height="4.2" fill="#FF0000"/><rect x="191.20" y="127.60" width="6" height="4.2" fill="#FF0000"/><rect x="181.00" y="130.90" width="6" height="4.2" fill="#FF0000"/><rect x="181.00" y="135.70" width="6" height="4.2" fill="#FF0000"/><rect x="170.70" y="142.60" width="6" height="4.2" fill="#FF0000"/><rect x="181.00" y="141.70" width="6" height="4.2" fill="#FF0000"/><rect x="181.00" y="146.00" width="6" height="4.2" fill="#FF0000"/><rect x="191.20" y="143.40" width="6" height="4.2" fill="#FF0000"/><rect x="181.00" y="153.90" width="6" height="4.2" fill="#FF0000"/>
<ellipse cx="235.5" cy="50.9" rx="2.6" ry="2.1" fill="#44DF1C"/><ellipse cx="235.3" cy="119.2" rx="2.6" ry="2.1" fill="#44DF1C"/><ellipse cx="235.3" cy="134.8" rx="2.6" ry="2.1" fill="#44DF1C"/><ellipse cx="235.3" cy="138.9" rx="2.6" ry="2.1" fill="#44DF1C"/><ellipse cx="235.3" cy="143" rx="2.6" ry="2.1" fill="#44DF1C"/><ellipse cx="225.2" cy="146.6" rx="2.6" ry="2.1" fill="#44DF1C"/><ellipse cx="245.5" cy="144.4" rx="2.6" ry="2.1" fill="#44DF1C"/><ellipse cx="245.5" cy="149.6" rx="2.6" ry="2.1" fill="#44DF1C"/><ellipse cx="235.3" cy="151.7" rx="2.6" ry="2.1" fill="#44DF1C"/><ellipse cx="225.2" cy="155.4" rx="2.6" ry="2.1" fill="#44DF1C"/><ellipse cx="245.5" cy="155.4" rx="2.6" ry="2.1" fill="#44DF1C"/>
<line x1="98.3" y1="36.7" x2="98.3" y2="163.0" stroke="#000" stroke-width="1.4"/>
<line x1="97.6" y1="162.3" x2="270.3" y2="162.3" stroke="#000" stroke-width="1.4"/>
<line x1="93.0" y1="37.40" x2="98.3" y2="37.40" stroke="#000" stroke-width="1.3"/>
<text transform="translate(91.3,40.69999999999999) scale(1.2,1)" font-size="7.8" font-weight="bold" text-anchor="end" >2×10<tspan font-size="4.8" dx="1.2" dy="-2.5">9</tspan></text>
<line x1="93.0" y1="68.60" x2="98.3" y2="68.60" stroke="#000" stroke-width="1.3"/>
<text transform="translate(91.3,71.89999999999999) scale(1.2,1)" font-size="7.8" font-weight="bold" text-anchor="end" >1.5×10<tspan font-size="4.8" dx="1.2" dy="-2.5">9</tspan></text>
<line x1="93.0" y1="99.80" x2="98.3" y2="99.80" stroke="#000" stroke-width="1.3"/>
<text transform="translate(91.3,103.09999999999998) scale(1.2,1)" font-size="7.8" font-weight="bold" text-anchor="end" >1×10<tspan font-size="4.8" dx="1.2" dy="-2.5">9</tspan></text>
<line x1="93.0" y1="131.00" x2="98.3" y2="131.00" stroke="#000" stroke-width="1.3"/>
<text transform="translate(91.3,134.3) scale(1.2,1)" font-size="7.8" font-weight="bold" text-anchor="end" >5×10<tspan font-size="4.8" dx="1.2" dy="-2.5">8</tspan></text>
<line x1="93.0" y1="162.20" x2="98.3" y2="162.20" stroke="#000" stroke-width="1.3"/>
<text transform="translate(90.3,165.5) scale(1.2,1)" font-size="7.8" font-weight="bold" text-anchor="end" >0</text>
<line x1="132.5" y1="162.3" x2="132.5" y2="166.9" stroke="#000" stroke-width="1.3"/>
<line x1="184.0" y1="162.3" x2="184.0" y2="166.9" stroke="#000" stroke-width="1.3"/>
<line x1="235.5" y1="162.3" x2="235.5" y2="166.9" stroke="#000" stroke-width="1.3"/>
<text transform="translate(57.6,161.3) scale(1.09,1) rotate(-90)" font-size="9.29" stroke="#000" stroke-width="0.28">concentration of particles per ml</text>
<text transform="translate(133.8,174.6) scale(1.3,1) rotate(-45)" font-size="7.5" font-weight="bold" text-anchor="end">Control</text>
<text transform="translate(187.0,173.4) scale(1.3,1) rotate(-45)" font-size="7.5" font-weight="bold" text-anchor="end">Rotenone (8h)</text>
<text transform="translate(238.5,173.4) scale(1.3,1) rotate(-45)" font-size="7.5" font-weight="bold" text-anchor="end">Rotenone (24h)</text>
<text transform="translate(426.0,16.0) scale(1.17,1)" font-size="10.2" font-weight="bold" text-anchor="start" >Serum EVs from rotenone treated rats</text>
<path d="M473.20,158.1 V112.80 H502.30 V158.1" fill="none" stroke="#0000FF" stroke-width="1.8"/>
<path d="M520.60,158.1 V100.70 H550.20 V158.1" fill="none" stroke="#FF0000" stroke-width="1.8"/>
<path d="M568.20,158.1 V102.80 H597.90 V158.1" fill="none" stroke="#44DF1C" stroke-width="1.8"/>
<line x1="535.3" y1="95.5" x2="535.3" y2="104" stroke="#FF7272" stroke-width="1"/><line x1="527.5" y1="95.5" x2="543.0999999999999" y2="95.5" stroke="#FF7272" stroke-width="1"/><line x1="527.5" y1="104" x2="543.0999999999999" y2="104" stroke="#FF7272" stroke-width="1"/>
<line x1="583" y1="99.5" x2="583" y2="104" stroke="#84E86C" stroke-width="1"/><line x1="575.5" y1="99.5" x2="590.5" y2="99.5" stroke="#84E86C" stroke-width="1"/><line x1="575.5" y1="104" x2="590.5" y2="104" stroke="#84E86C" stroke-width="1"/>
<line x1="487.5" y1="109" x2="487.5" y2="115" stroke="#8080FF" stroke-width="1"/><line x1="480.5" y1="109" x2="494.5" y2="109" stroke="#8080FF" stroke-width="1"/><line x1="480.5" y1="115" x2="494.5" y2="115" stroke="#8080FF" stroke-width="1"/>
<ellipse cx="487.5" cy="98.8" rx="2.6" ry="2.15" fill="#0000FF"/><ellipse cx="474.4" cy="107.9" rx="2.6" ry="2.15" fill="#0000FF"/><ellipse cx="480.8" cy="109.3" rx="2.6" ry="2.15" fill="#0000FF"/><ellipse cx="487.5" cy="109.1" rx="2.6" ry="2.15" fill="#0000FF"/><ellipse cx="494.2" cy="109.1" rx="2.6" ry="2.15" fill="#0000FF"/><ellipse cx="501.1" cy="108.2" rx="2.6" ry="2.15" fill="#0000FF"/><ellipse cx="484.1" cy="114.4" rx="2.6" ry="2.15" fill="#0000FF"/><ellipse cx="490.9" cy="114.1" rx="2.6" ry="2.15" fill="#0000FF"/><ellipse cx="487.5" cy="120.2" rx="2.6" ry="2.15" fill="#0000FF"/><ellipse cx="487.5" cy="125.3" rx="2.6" ry="2.15" fill="#0000FF"/>
<rect x="532.75" y="74.60" width="5.1" height="4.4" fill="#FF0000"/><rect x="532.75" y="83.10" width="5.1" height="4.4" fill="#FF0000"/><rect x="532.75" y="91.20" width="5.1" height="4.4" fill="#FF0000"/><rect x="532.75" y="96.80" width="5.1" height="4.4" fill="#FF0000"/><rect x="520.15" y="101.90" width="5.1" height="4.4" fill="#FF0000"/><rect x="528.15" y="103.50" width="5.1" height="4.4" fill="#FF0000"/><rect x="537.05" y="102.70" width="5.1" height="4.4" fill="#FF0000"/><rect x="546.05" y="103.80" width="5.1" height="4.4" fill="#FF0000"/><rect x="532.75" y="123.10" width="5.1" height="4.4" fill="#FF0000"/>
<ellipse cx="583.2" cy="91.4" rx="2.55" ry="2.2" fill="#44DF1C"/><ellipse cx="569.6" cy="98.5" rx="2.55" ry="2.2" fill="#44DF1C"/><ellipse cx="578.6" cy="99.8" rx="2.55" ry="2.2" fill="#44DF1C"/><ellipse cx="587.6" cy="98.9" rx="2.55" ry="2.2" fill="#44DF1C"/><ellipse cx="596.6" cy="98.2" rx="2.55" ry="2.2" fill="#44DF1C"/><ellipse cx="578.6" cy="102.4" rx="2.55" ry="2.2" fill="#44DF1C"/><ellipse cx="578.6" cy="104.8" rx="2.55" ry="2.2" fill="#44DF1C"/><ellipse cx="587.6" cy="107.6" rx="2.55" ry="2.2" fill="#44DF1C"/><ellipse cx="578.8" cy="111.5" rx="2.55" ry="2.2" fill="#44DF1C"/>
<line x1="456.0" y1="36.7" x2="456.0" y2="158.79999999999998" stroke="#000" stroke-width="1.4"/>
<line x1="455.3" y1="158.1" x2="615" y2="158.1" stroke="#000" stroke-width="1.4"/>
<line x1="451" y1="37.35" x2="456.0" y2="37.35" stroke="#000" stroke-width="1.3"/>
<text transform="translate(449.0,40.74999999999999) scale(1.17,1)" font-size="7.7" font-weight="bold" text-anchor="end" >1.5×10<tspan font-size="5.0" dx="0.5" dy="-2.7">10</tspan></text>
<line x1="451" y1="77.60" x2="456.0" y2="77.60" stroke="#000" stroke-width="1.3"/>
<text transform="translate(449.0,81.0) scale(1.17,1)" font-size="7.7" font-weight="bold" text-anchor="end" >1×10<tspan font-size="5.0" dx="0.5" dy="-2.7">10</tspan></text>
<line x1="451" y1="117.85" x2="456.0" y2="117.85" stroke="#000" stroke-width="1.3"/>
<text transform="translate(449.0,121.25) scale(1.17,1)" font-size="7.7" font-weight="bold" text-anchor="end" >5×10<tspan font-size="5.0" dx="0.5" dy="-2.7">9</tspan></text>
<line x1="451" y1="158.10" x2="456.0" y2="158.10" stroke="#000" stroke-width="1.3"/>
<text transform="translate(448.8,161.5) scale(1.17,1)" font-size="7.7" font-weight="bold" text-anchor="end" >0</text>
<line x1="487.6" y1="158.1" x2="487.6" y2="162.8" stroke="#000" stroke-width="1.3"/>
<line x1="535.5" y1="158.1" x2="535.5" y2="162.8" stroke="#000" stroke-width="1.3"/>
<line x1="583.3" y1="158.1" x2="583.3" y2="162.8" stroke="#000" stroke-width="1.3"/>
<text transform="translate(534.5,71.5) scale(1.35,1)" font-size="9.5" font-weight="bold" text-anchor="middle" >*</text>
<text transform="translate(583.2,88.6) scale(1.35,1)" font-size="9.5" font-weight="bold" text-anchor="middle" >**</text>
<text transform="translate(404.6,165.3) scale(1.08,1) rotate(-90)" font-size="9.5" stroke="#000" stroke-width="0.28">concentration of particles per ml</text>
<text transform="translate(489.0,172.0) scale(1.22,1) rotate(-45)" font-size="7.8" font-weight="bold" text-anchor="end">Control</text>
<text transform="translate(539.0,170.5) scale(1.22,1) rotate(-45)" font-size="7.8" font-weight="bold" text-anchor="end">Rotenone (8h)</text>
<text transform="translate(587.0,170.5) scale(1.22,1) rotate(-45)" font-size="7.8" font-weight="bold" text-anchor="end">Rotenone (24h)</text>
</svg>
</body></html>
